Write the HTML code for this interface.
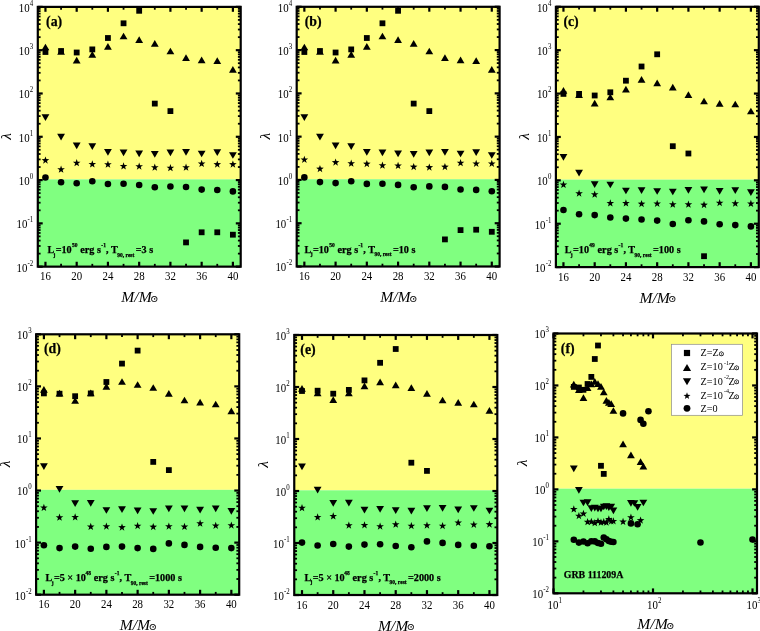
<!DOCTYPE html>
<html lang="en"><head><meta charset="utf-8"><title>lambda versus progenitor mass</title>
<style>html,body{margin:0;padding:0;background:#fff}body{width:760px;height:631px;overflow:hidden}svg{display:block;will-change:transform}</style>
</head><body>
<svg width="760" height="631" viewBox="0 0 760 631" font-family="'Liberation Serif','DejaVu Serif',serif" fill="#000" stroke="#000">
<rect x="0" y="0" width="760" height="631" fill="#fff" stroke="none"/>
<g stroke="#000" fill="#000">
<style>text{stroke:none}text.hv{stroke:#000;stroke-width:0.25px}</style>
<rect x="37.8" y="6.9" width="202.9" height="172.47" fill="#ffff80" stroke="none"/>
<rect x="37.8" y="179.37" width="202.9" height="87.28" fill="#80ff80" stroke="none"/>
<line x1="37.8" y1="266.65" x2="42.7" y2="266.65" stroke-width="2.2"/>
<line x1="240.7" y1="266.65" x2="235.8" y2="266.65" stroke-width="2.2"/>
<line x1="37.8" y1="253.62" x2="40.6" y2="253.62" stroke-width="1.8"/>
<line x1="240.7" y1="253.62" x2="237.9" y2="253.62" stroke-width="1.8"/>
<line x1="37.8" y1="245.99" x2="40.6" y2="245.99" stroke-width="1.8"/>
<line x1="240.7" y1="245.99" x2="237.9" y2="245.99" stroke-width="1.8"/>
<line x1="37.8" y1="240.59" x2="40.6" y2="240.59" stroke-width="1.8"/>
<line x1="240.7" y1="240.59" x2="237.9" y2="240.59" stroke-width="1.8"/>
<line x1="37.8" y1="236.39" x2="40.6" y2="236.39" stroke-width="1.8"/>
<line x1="240.7" y1="236.39" x2="237.9" y2="236.39" stroke-width="1.8"/>
<line x1="37.8" y1="232.96" x2="40.6" y2="232.96" stroke-width="1.8"/>
<line x1="240.7" y1="232.96" x2="237.9" y2="232.96" stroke-width="1.8"/>
<line x1="37.8" y1="230.06" x2="40.6" y2="230.06" stroke-width="1.8"/>
<line x1="240.7" y1="230.06" x2="237.9" y2="230.06" stroke-width="1.8"/>
<line x1="37.8" y1="227.55" x2="40.6" y2="227.55" stroke-width="1.8"/>
<line x1="240.7" y1="227.55" x2="237.9" y2="227.55" stroke-width="1.8"/>
<line x1="37.8" y1="225.34" x2="40.6" y2="225.34" stroke-width="1.8"/>
<line x1="240.7" y1="225.34" x2="237.9" y2="225.34" stroke-width="1.8"/>
<line x1="37.8" y1="223.36" x2="42.7" y2="223.36" stroke-width="2.2"/>
<line x1="240.7" y1="223.36" x2="235.8" y2="223.36" stroke-width="2.2"/>
<line x1="37.8" y1="210.33" x2="40.6" y2="210.33" stroke-width="1.8"/>
<line x1="240.7" y1="210.33" x2="237.9" y2="210.33" stroke-width="1.8"/>
<line x1="37.8" y1="202.7" x2="40.6" y2="202.7" stroke-width="1.8"/>
<line x1="240.7" y1="202.7" x2="237.9" y2="202.7" stroke-width="1.8"/>
<line x1="37.8" y1="197.29" x2="40.6" y2="197.29" stroke-width="1.8"/>
<line x1="240.7" y1="197.29" x2="237.9" y2="197.29" stroke-width="1.8"/>
<line x1="37.8" y1="193.1" x2="40.6" y2="193.1" stroke-width="1.8"/>
<line x1="240.7" y1="193.1" x2="237.9" y2="193.1" stroke-width="1.8"/>
<line x1="37.8" y1="189.67" x2="40.6" y2="189.67" stroke-width="1.8"/>
<line x1="240.7" y1="189.67" x2="237.9" y2="189.67" stroke-width="1.8"/>
<line x1="37.8" y1="186.77" x2="40.6" y2="186.77" stroke-width="1.8"/>
<line x1="240.7" y1="186.77" x2="237.9" y2="186.77" stroke-width="1.8"/>
<line x1="37.8" y1="184.26" x2="40.6" y2="184.26" stroke-width="1.8"/>
<line x1="240.7" y1="184.26" x2="237.9" y2="184.26" stroke-width="1.8"/>
<line x1="37.8" y1="182.05" x2="40.6" y2="182.05" stroke-width="1.8"/>
<line x1="240.7" y1="182.05" x2="237.9" y2="182.05" stroke-width="1.8"/>
<line x1="37.8" y1="180.07" x2="42.7" y2="180.07" stroke-width="2.2"/>
<line x1="240.7" y1="180.07" x2="235.8" y2="180.07" stroke-width="2.2"/>
<line x1="37.8" y1="167.03" x2="40.6" y2="167.03" stroke-width="1.8"/>
<line x1="240.7" y1="167.03" x2="237.9" y2="167.03" stroke-width="1.8"/>
<line x1="37.8" y1="159.41" x2="40.6" y2="159.41" stroke-width="1.8"/>
<line x1="240.7" y1="159.41" x2="237.9" y2="159.41" stroke-width="1.8"/>
<line x1="37.8" y1="154" x2="40.6" y2="154" stroke-width="1.8"/>
<line x1="240.7" y1="154" x2="237.9" y2="154" stroke-width="1.8"/>
<line x1="37.8" y1="149.81" x2="40.6" y2="149.81" stroke-width="1.8"/>
<line x1="240.7" y1="149.81" x2="237.9" y2="149.81" stroke-width="1.8"/>
<line x1="37.8" y1="146.38" x2="40.6" y2="146.38" stroke-width="1.8"/>
<line x1="240.7" y1="146.38" x2="237.9" y2="146.38" stroke-width="1.8"/>
<line x1="37.8" y1="143.48" x2="40.6" y2="143.48" stroke-width="1.8"/>
<line x1="240.7" y1="143.48" x2="237.9" y2="143.48" stroke-width="1.8"/>
<line x1="37.8" y1="140.97" x2="40.6" y2="140.97" stroke-width="1.8"/>
<line x1="240.7" y1="140.97" x2="237.9" y2="140.97" stroke-width="1.8"/>
<line x1="37.8" y1="138.76" x2="40.6" y2="138.76" stroke-width="1.8"/>
<line x1="240.7" y1="138.76" x2="237.9" y2="138.76" stroke-width="1.8"/>
<line x1="37.8" y1="136.78" x2="42.7" y2="136.78" stroke-width="2.2"/>
<line x1="240.7" y1="136.78" x2="235.8" y2="136.78" stroke-width="2.2"/>
<line x1="37.8" y1="123.74" x2="40.6" y2="123.74" stroke-width="1.8"/>
<line x1="240.7" y1="123.74" x2="237.9" y2="123.74" stroke-width="1.8"/>
<line x1="37.8" y1="116.12" x2="40.6" y2="116.12" stroke-width="1.8"/>
<line x1="240.7" y1="116.12" x2="237.9" y2="116.12" stroke-width="1.8"/>
<line x1="37.8" y1="110.71" x2="40.6" y2="110.71" stroke-width="1.8"/>
<line x1="240.7" y1="110.71" x2="237.9" y2="110.71" stroke-width="1.8"/>
<line x1="37.8" y1="106.52" x2="40.6" y2="106.52" stroke-width="1.8"/>
<line x1="240.7" y1="106.52" x2="237.9" y2="106.52" stroke-width="1.8"/>
<line x1="37.8" y1="103.09" x2="40.6" y2="103.09" stroke-width="1.8"/>
<line x1="240.7" y1="103.09" x2="237.9" y2="103.09" stroke-width="1.8"/>
<line x1="37.8" y1="100.19" x2="40.6" y2="100.19" stroke-width="1.8"/>
<line x1="240.7" y1="100.19" x2="237.9" y2="100.19" stroke-width="1.8"/>
<line x1="37.8" y1="97.68" x2="40.6" y2="97.68" stroke-width="1.8"/>
<line x1="240.7" y1="97.68" x2="237.9" y2="97.68" stroke-width="1.8"/>
<line x1="37.8" y1="95.46" x2="40.6" y2="95.46" stroke-width="1.8"/>
<line x1="240.7" y1="95.46" x2="237.9" y2="95.46" stroke-width="1.8"/>
<line x1="37.8" y1="93.48" x2="42.7" y2="93.48" stroke-width="2.2"/>
<line x1="240.7" y1="93.48" x2="235.8" y2="93.48" stroke-width="2.2"/>
<line x1="37.8" y1="80.45" x2="40.6" y2="80.45" stroke-width="1.8"/>
<line x1="240.7" y1="80.45" x2="237.9" y2="80.45" stroke-width="1.8"/>
<line x1="37.8" y1="72.83" x2="40.6" y2="72.83" stroke-width="1.8"/>
<line x1="240.7" y1="72.83" x2="237.9" y2="72.83" stroke-width="1.8"/>
<line x1="37.8" y1="67.42" x2="40.6" y2="67.42" stroke-width="1.8"/>
<line x1="240.7" y1="67.42" x2="237.9" y2="67.42" stroke-width="1.8"/>
<line x1="37.8" y1="63.22" x2="40.6" y2="63.22" stroke-width="1.8"/>
<line x1="240.7" y1="63.22" x2="237.9" y2="63.22" stroke-width="1.8"/>
<line x1="37.8" y1="59.8" x2="40.6" y2="59.8" stroke-width="1.8"/>
<line x1="240.7" y1="59.8" x2="237.9" y2="59.8" stroke-width="1.8"/>
<line x1="37.8" y1="56.9" x2="40.6" y2="56.9" stroke-width="1.8"/>
<line x1="240.7" y1="56.9" x2="237.9" y2="56.9" stroke-width="1.8"/>
<line x1="37.8" y1="54.39" x2="40.6" y2="54.39" stroke-width="1.8"/>
<line x1="240.7" y1="54.39" x2="237.9" y2="54.39" stroke-width="1.8"/>
<line x1="37.8" y1="52.17" x2="40.6" y2="52.17" stroke-width="1.8"/>
<line x1="240.7" y1="52.17" x2="237.9" y2="52.17" stroke-width="1.8"/>
<line x1="37.8" y1="50.19" x2="42.7" y2="50.19" stroke-width="2.2"/>
<line x1="240.7" y1="50.19" x2="235.8" y2="50.19" stroke-width="2.2"/>
<line x1="37.8" y1="37.16" x2="40.6" y2="37.16" stroke-width="1.8"/>
<line x1="240.7" y1="37.16" x2="237.9" y2="37.16" stroke-width="1.8"/>
<line x1="37.8" y1="29.54" x2="40.6" y2="29.54" stroke-width="1.8"/>
<line x1="240.7" y1="29.54" x2="237.9" y2="29.54" stroke-width="1.8"/>
<line x1="37.8" y1="24.13" x2="40.6" y2="24.13" stroke-width="1.8"/>
<line x1="240.7" y1="24.13" x2="237.9" y2="24.13" stroke-width="1.8"/>
<line x1="37.8" y1="19.93" x2="40.6" y2="19.93" stroke-width="1.8"/>
<line x1="240.7" y1="19.93" x2="237.9" y2="19.93" stroke-width="1.8"/>
<line x1="37.8" y1="16.5" x2="40.6" y2="16.5" stroke-width="1.8"/>
<line x1="240.7" y1="16.5" x2="237.9" y2="16.5" stroke-width="1.8"/>
<line x1="37.8" y1="13.61" x2="40.6" y2="13.61" stroke-width="1.8"/>
<line x1="240.7" y1="13.61" x2="237.9" y2="13.61" stroke-width="1.8"/>
<line x1="37.8" y1="11.1" x2="40.6" y2="11.1" stroke-width="1.8"/>
<line x1="240.7" y1="11.1" x2="237.9" y2="11.1" stroke-width="1.8"/>
<line x1="37.8" y1="8.88" x2="40.6" y2="8.88" stroke-width="1.8"/>
<line x1="240.7" y1="8.88" x2="237.9" y2="8.88" stroke-width="1.8"/>
<line x1="37.8" y1="6.9" x2="42.7" y2="6.9" stroke-width="2.2"/>
<line x1="240.7" y1="6.9" x2="235.8" y2="6.9" stroke-width="2.2"/>
<line x1="45.45" y1="266.65" x2="45.45" y2="261.75" stroke-width="2.2"/>
<line x1="45.45" y1="6.9" x2="45.45" y2="11.8" stroke-width="2.2"/>
<line x1="61.07" y1="266.65" x2="61.07" y2="263.85" stroke-width="1.8"/>
<line x1="61.07" y1="6.9" x2="61.07" y2="9.7" stroke-width="1.8"/>
<line x1="76.69" y1="266.65" x2="76.69" y2="261.75" stroke-width="2.2"/>
<line x1="76.69" y1="6.9" x2="76.69" y2="11.8" stroke-width="2.2"/>
<line x1="92.31" y1="266.65" x2="92.31" y2="263.85" stroke-width="1.8"/>
<line x1="92.31" y1="6.9" x2="92.31" y2="9.7" stroke-width="1.8"/>
<line x1="107.93" y1="266.65" x2="107.93" y2="261.75" stroke-width="2.2"/>
<line x1="107.93" y1="6.9" x2="107.93" y2="11.8" stroke-width="2.2"/>
<line x1="123.55" y1="266.65" x2="123.55" y2="263.85" stroke-width="1.8"/>
<line x1="123.55" y1="6.9" x2="123.55" y2="9.7" stroke-width="1.8"/>
<line x1="139.17" y1="266.65" x2="139.17" y2="261.75" stroke-width="2.2"/>
<line x1="139.17" y1="6.9" x2="139.17" y2="11.8" stroke-width="2.2"/>
<line x1="154.79" y1="266.65" x2="154.79" y2="263.85" stroke-width="1.8"/>
<line x1="154.79" y1="6.9" x2="154.79" y2="9.7" stroke-width="1.8"/>
<line x1="170.41" y1="266.65" x2="170.41" y2="261.75" stroke-width="2.2"/>
<line x1="170.41" y1="6.9" x2="170.41" y2="11.8" stroke-width="2.2"/>
<line x1="186.03" y1="266.65" x2="186.03" y2="263.85" stroke-width="1.8"/>
<line x1="186.03" y1="6.9" x2="186.03" y2="9.7" stroke-width="1.8"/>
<line x1="201.65" y1="266.65" x2="201.65" y2="261.75" stroke-width="2.2"/>
<line x1="201.65" y1="6.9" x2="201.65" y2="11.8" stroke-width="2.2"/>
<line x1="217.27" y1="266.65" x2="217.27" y2="263.85" stroke-width="1.8"/>
<line x1="217.27" y1="6.9" x2="217.27" y2="9.7" stroke-width="1.8"/>
<line x1="232.89" y1="266.65" x2="232.89" y2="261.75" stroke-width="2.2"/>
<line x1="232.89" y1="6.9" x2="232.89" y2="11.8" stroke-width="2.2"/>
<rect x="37.8" y="6.9" width="202.9" height="259.75" fill="none" stroke-width="2.2"/>
<text transform="translate(33.3 271.55) scale(0.93 1)" font-size="11.7" text-anchor="end">10<tspan font-size="7.4" dy="-6" dx="0.2">-2</tspan></text>
<text transform="translate(33.3 228.26) scale(0.93 1)" font-size="11.7" text-anchor="end">10<tspan font-size="7.4" dy="-6" dx="0.2">-1</tspan></text>
<text transform="translate(33.3 184.97) scale(0.93 1)" font-size="11.7" text-anchor="end">10<tspan font-size="7.4" dy="-6" dx="0.2">0</tspan></text>
<text transform="translate(33.3 141.68) scale(0.93 1)" font-size="11.7" text-anchor="end">10<tspan font-size="7.4" dy="-6" dx="0.2">1</tspan></text>
<text transform="translate(33.3 98.38) scale(0.93 1)" font-size="11.7" text-anchor="end">10<tspan font-size="7.4" dy="-6" dx="0.2">2</tspan></text>
<text transform="translate(33.3 55.09) scale(0.93 1)" font-size="11.7" text-anchor="end">10<tspan font-size="7.4" dy="-6" dx="0.2">3</tspan></text>
<text transform="translate(33.3 11.8) scale(0.93 1)" font-size="11.7" text-anchor="end">10<tspan font-size="7.4" dy="-6" dx="0.2">4</tspan></text>
<text transform="translate(45.45 280.35) scale(0.93 1)" font-size="11.7" text-anchor="middle">16</text>
<text transform="translate(76.69 280.35) scale(0.93 1)" font-size="11.7" text-anchor="middle">20</text>
<text transform="translate(107.93 280.35) scale(0.93 1)" font-size="11.7" text-anchor="middle">24</text>
<text transform="translate(139.17 280.35) scale(0.93 1)" font-size="11.7" text-anchor="middle">28</text>
<text transform="translate(170.41 280.35) scale(0.93 1)" font-size="11.7" text-anchor="middle">32</text>
<text transform="translate(201.65 280.35) scale(0.93 1)" font-size="11.7" text-anchor="middle">36</text>
<text transform="translate(232.89 280.35) scale(0.93 1)" font-size="11.7" text-anchor="middle">40</text>
<text x="121.35" y="302.35" font-size="15.6" text-anchor="start" font-weight="normal" font-style="italic">M/M</text>
<text transform="translate(154.25 298.85) scale(0.4802)" x="-8.38" y="6.28" font-size="20" font-family="'DejaVu Sans',sans-serif" style="stroke:#000;stroke-width:0.21">⊙</text>
<text transform="translate(11.2 136.27) rotate(-90)" font-size="15.5" font-style="italic" text-anchor="middle">λ</text>
<text x="46.1" y="25.7" font-size="13.8" text-anchor="start" font-weight="bold" font-style="normal" class="hv">(a)</text>
<text font-size="10.2" font-weight="bold" class="hv"><tspan x="47.4" y="252.7">L</tspan><tspan x="53.5" y="256.5" font-size="5.5">j</tspan><tspan x="55.7" y="252.7">=10</tspan><tspan x="72" y="247.1" font-size="5.5">50</tspan><tspan x="80.3" y="252.7">erg s</tspan><tspan x="101.3" y="247.1" font-size="5.5">-1</tspan><tspan x="106.1" y="252.7">, T</tspan><tspan x="117.3" y="256.5" font-size="5.5">90, rest</tspan><tspan x="135.7" y="252.7">=3 s</tspan></text>
<g fill="#000" stroke="none">
<rect x="42.55" y="49.1" width="5.8" height="5.8"/>
<rect x="58.17" y="48.1" width="5.8" height="5.8"/>
<rect x="73.79" y="49.6" width="5.8" height="5.8"/>
<rect x="89.41" y="46.5" width="5.8" height="5.8"/>
<rect x="105.03" y="35.1" width="5.8" height="5.8"/>
<rect x="120.65" y="20.4" width="5.8" height="5.8"/>
<rect x="136.27" y="7.9" width="5.8" height="5.8"/>
<rect x="151.89" y="100.7" width="5.8" height="5.8"/>
<rect x="167.51" y="108.2" width="5.8" height="5.8"/>
<rect x="183.13" y="239.5" width="5.8" height="5.8"/>
<rect x="198.75" y="229.4" width="5.8" height="5.8"/>
<rect x="214.37" y="229.4" width="5.8" height="5.8"/>
<rect x="229.99" y="231.8" width="5.8" height="5.8"/>
<path d="M45.45 43.65L49.35 50.35L41.55 50.35Z"/>
<path d="M61.07 48.15L64.97 54.85L57.17 54.85Z"/>
<path d="M76.69 56.85L80.59 63.55L72.79 63.55Z"/>
<path d="M92.31 51.05L96.21 57.75L88.41 57.75Z"/>
<path d="M107.93 42.95L111.83 49.65L104.03 49.65Z"/>
<path d="M123.55 32.65L127.45 39.35L119.65 39.35Z"/>
<path d="M139.17 36.25L143.07 42.95L135.27 42.95Z"/>
<path d="M154.79 40.05L158.69 46.75L150.89 46.75Z"/>
<path d="M170.41 47.65L174.31 54.35L166.51 54.35Z"/>
<path d="M186.03 54.35L189.93 61.05L182.13 61.05Z"/>
<path d="M201.65 56.55L205.55 63.25L197.75 63.25Z"/>
<path d="M217.27 57.35L221.17 64.05L213.37 64.05Z"/>
<path d="M232.89 65.95L236.79 72.65L228.99 72.65Z"/>
<path d="M45.45 121.05L49.35 114.35L41.55 114.35Z"/>
<path d="M61.07 140.55L64.97 133.85L57.17 133.85Z"/>
<path d="M76.69 149.15L80.59 142.45L72.79 142.45Z"/>
<path d="M92.31 149.95L96.21 143.25L88.41 143.25Z"/>
<path d="M107.93 155.75L111.83 149.05L104.03 149.05Z"/>
<path d="M123.55 156.15L127.45 149.45L119.65 149.45Z"/>
<path d="M139.17 157.25L143.07 150.55L135.27 150.55Z"/>
<path d="M154.79 157.65L158.69 150.95L150.89 150.95Z"/>
<path d="M170.41 156.15L174.31 149.45L166.51 149.45Z"/>
<path d="M186.03 155.75L189.93 149.05L182.13 149.05Z"/>
<path d="M201.65 157.35L205.55 150.65L197.75 150.65Z"/>
<path d="M217.27 155.95L221.17 149.25L213.37 149.25Z"/>
<path d="M232.89 158.85L236.79 152.15L228.99 152.15Z"/>
<path d="M45.45 156.4L46.39 159.11L49.25 159.16L46.97 160.89L47.8 163.64L45.45 162L43.1 163.64L43.93 160.89L41.65 159.16L44.51 159.11Z"/>
<path d="M61.07 165.6L62.01 168.31L64.87 168.36L62.59 170.09L63.42 172.84L61.07 171.2L58.72 172.84L59.55 170.09L57.27 168.36L60.13 168.31Z"/>
<path d="M76.69 159.1L77.63 161.81L80.49 161.86L78.21 163.59L79.04 166.34L76.69 164.7L74.34 166.34L75.17 163.59L72.89 161.86L75.75 161.81Z"/>
<path d="M92.31 160.3L93.25 163.01L96.11 163.06L93.83 164.79L94.66 167.54L92.31 165.9L89.96 167.54L90.79 164.79L88.51 163.06L91.37 163.01Z"/>
<path d="M107.93 160.6L108.87 163.31L111.73 163.36L109.45 165.09L110.28 167.84L107.93 166.2L105.58 167.84L106.41 165.09L104.13 163.36L106.99 163.31Z"/>
<path d="M123.55 162.3L124.49 165.01L127.35 165.06L125.07 166.79L125.9 169.54L123.55 167.9L121.2 169.54L122.03 166.79L119.75 165.06L122.61 165.01Z"/>
<path d="M139.17 162.5L140.11 165.21L142.97 165.26L140.69 166.99L141.52 169.74L139.17 168.1L136.82 169.74L137.65 166.99L135.37 165.26L138.23 165.21Z"/>
<path d="M154.79 163.6L155.73 166.31L158.59 166.36L156.31 168.09L157.14 170.84L154.79 169.2L152.44 170.84L153.27 168.09L150.99 166.36L153.85 166.31Z"/>
<path d="M170.41 164.1L171.35 166.81L174.21 166.86L171.93 168.59L172.76 171.34L170.41 169.7L168.06 171.34L168.89 168.59L166.61 166.86L169.47 166.81Z"/>
<path d="M186.03 163.6L186.97 166.31L189.83 166.36L187.55 168.09L188.38 170.84L186.03 169.2L183.68 170.84L184.51 168.09L182.23 166.36L185.09 166.31Z"/>
<path d="M201.65 159.8L202.59 162.51L205.45 162.56L203.17 164.29L204 167.04L201.65 165.4L199.3 167.04L200.13 164.29L197.85 162.56L200.71 162.51Z"/>
<path d="M217.27 160.4L218.21 163.11L221.07 163.16L218.79 164.89L219.62 167.64L217.27 166L214.92 167.64L215.75 164.89L213.47 163.16L216.33 163.11Z"/>
<path d="M232.89 160.4L233.83 163.11L236.69 163.16L234.41 164.89L235.24 167.64L232.89 166L230.54 167.64L231.37 164.89L229.09 163.16L231.95 163.11Z"/>
<circle cx="45.45" cy="177.5" r="3.3"/>
<circle cx="61.07" cy="182.2" r="3.3"/>
<circle cx="76.69" cy="183.2" r="3.3"/>
<circle cx="92.31" cy="181.3" r="3.3"/>
<circle cx="107.93" cy="184" r="3.3"/>
<circle cx="123.55" cy="183.8" r="3.3"/>
<circle cx="139.17" cy="185" r="3.3"/>
<circle cx="154.79" cy="187.3" r="3.3"/>
<circle cx="170.41" cy="186.5" r="3.3"/>
<circle cx="186.03" cy="187" r="3.3"/>
<circle cx="201.65" cy="189.6" r="3.3"/>
<circle cx="217.27" cy="190" r="3.3"/>
<circle cx="232.89" cy="191.4" r="3.3"/>
</g>
<rect x="296.7" y="6.8" width="202.9" height="172.43" fill="#ffff80" stroke="none"/>
<rect x="296.7" y="179.23" width="202.9" height="87.27" fill="#80ff80" stroke="none"/>
<line x1="296.7" y1="266.5" x2="301.6" y2="266.5" stroke-width="2.2"/>
<line x1="499.6" y1="266.5" x2="494.7" y2="266.5" stroke-width="2.2"/>
<line x1="296.7" y1="253.47" x2="299.5" y2="253.47" stroke-width="1.8"/>
<line x1="499.6" y1="253.47" x2="496.8" y2="253.47" stroke-width="1.8"/>
<line x1="296.7" y1="245.85" x2="299.5" y2="245.85" stroke-width="1.8"/>
<line x1="499.6" y1="245.85" x2="496.8" y2="245.85" stroke-width="1.8"/>
<line x1="296.7" y1="240.44" x2="299.5" y2="240.44" stroke-width="1.8"/>
<line x1="499.6" y1="240.44" x2="496.8" y2="240.44" stroke-width="1.8"/>
<line x1="296.7" y1="236.25" x2="299.5" y2="236.25" stroke-width="1.8"/>
<line x1="499.6" y1="236.25" x2="496.8" y2="236.25" stroke-width="1.8"/>
<line x1="296.7" y1="232.82" x2="299.5" y2="232.82" stroke-width="1.8"/>
<line x1="499.6" y1="232.82" x2="496.8" y2="232.82" stroke-width="1.8"/>
<line x1="296.7" y1="229.92" x2="299.5" y2="229.92" stroke-width="1.8"/>
<line x1="499.6" y1="229.92" x2="496.8" y2="229.92" stroke-width="1.8"/>
<line x1="296.7" y1="227.41" x2="299.5" y2="227.41" stroke-width="1.8"/>
<line x1="499.6" y1="227.41" x2="496.8" y2="227.41" stroke-width="1.8"/>
<line x1="296.7" y1="225.2" x2="299.5" y2="225.2" stroke-width="1.8"/>
<line x1="499.6" y1="225.2" x2="496.8" y2="225.2" stroke-width="1.8"/>
<line x1="296.7" y1="223.22" x2="301.6" y2="223.22" stroke-width="2.2"/>
<line x1="499.6" y1="223.22" x2="494.7" y2="223.22" stroke-width="2.2"/>
<line x1="296.7" y1="210.19" x2="299.5" y2="210.19" stroke-width="1.8"/>
<line x1="499.6" y1="210.19" x2="496.8" y2="210.19" stroke-width="1.8"/>
<line x1="296.7" y1="202.57" x2="299.5" y2="202.57" stroke-width="1.8"/>
<line x1="499.6" y1="202.57" x2="496.8" y2="202.57" stroke-width="1.8"/>
<line x1="296.7" y1="197.16" x2="299.5" y2="197.16" stroke-width="1.8"/>
<line x1="499.6" y1="197.16" x2="496.8" y2="197.16" stroke-width="1.8"/>
<line x1="296.7" y1="192.96" x2="299.5" y2="192.96" stroke-width="1.8"/>
<line x1="499.6" y1="192.96" x2="496.8" y2="192.96" stroke-width="1.8"/>
<line x1="296.7" y1="189.54" x2="299.5" y2="189.54" stroke-width="1.8"/>
<line x1="499.6" y1="189.54" x2="496.8" y2="189.54" stroke-width="1.8"/>
<line x1="296.7" y1="186.64" x2="299.5" y2="186.64" stroke-width="1.8"/>
<line x1="499.6" y1="186.64" x2="496.8" y2="186.64" stroke-width="1.8"/>
<line x1="296.7" y1="184.13" x2="299.5" y2="184.13" stroke-width="1.8"/>
<line x1="499.6" y1="184.13" x2="496.8" y2="184.13" stroke-width="1.8"/>
<line x1="296.7" y1="181.91" x2="299.5" y2="181.91" stroke-width="1.8"/>
<line x1="499.6" y1="181.91" x2="496.8" y2="181.91" stroke-width="1.8"/>
<line x1="296.7" y1="179.93" x2="301.6" y2="179.93" stroke-width="2.2"/>
<line x1="499.6" y1="179.93" x2="494.7" y2="179.93" stroke-width="2.2"/>
<line x1="296.7" y1="166.9" x2="299.5" y2="166.9" stroke-width="1.8"/>
<line x1="499.6" y1="166.9" x2="496.8" y2="166.9" stroke-width="1.8"/>
<line x1="296.7" y1="159.28" x2="299.5" y2="159.28" stroke-width="1.8"/>
<line x1="499.6" y1="159.28" x2="496.8" y2="159.28" stroke-width="1.8"/>
<line x1="296.7" y1="153.87" x2="299.5" y2="153.87" stroke-width="1.8"/>
<line x1="499.6" y1="153.87" x2="496.8" y2="153.87" stroke-width="1.8"/>
<line x1="296.7" y1="149.68" x2="299.5" y2="149.68" stroke-width="1.8"/>
<line x1="499.6" y1="149.68" x2="496.8" y2="149.68" stroke-width="1.8"/>
<line x1="296.7" y1="146.25" x2="299.5" y2="146.25" stroke-width="1.8"/>
<line x1="499.6" y1="146.25" x2="496.8" y2="146.25" stroke-width="1.8"/>
<line x1="296.7" y1="143.35" x2="299.5" y2="143.35" stroke-width="1.8"/>
<line x1="499.6" y1="143.35" x2="496.8" y2="143.35" stroke-width="1.8"/>
<line x1="296.7" y1="140.84" x2="299.5" y2="140.84" stroke-width="1.8"/>
<line x1="499.6" y1="140.84" x2="496.8" y2="140.84" stroke-width="1.8"/>
<line x1="296.7" y1="138.63" x2="299.5" y2="138.63" stroke-width="1.8"/>
<line x1="499.6" y1="138.63" x2="496.8" y2="138.63" stroke-width="1.8"/>
<line x1="296.7" y1="136.65" x2="301.6" y2="136.65" stroke-width="2.2"/>
<line x1="499.6" y1="136.65" x2="494.7" y2="136.65" stroke-width="2.2"/>
<line x1="296.7" y1="123.62" x2="299.5" y2="123.62" stroke-width="1.8"/>
<line x1="499.6" y1="123.62" x2="496.8" y2="123.62" stroke-width="1.8"/>
<line x1="296.7" y1="116" x2="299.5" y2="116" stroke-width="1.8"/>
<line x1="499.6" y1="116" x2="496.8" y2="116" stroke-width="1.8"/>
<line x1="296.7" y1="110.59" x2="299.5" y2="110.59" stroke-width="1.8"/>
<line x1="499.6" y1="110.59" x2="496.8" y2="110.59" stroke-width="1.8"/>
<line x1="296.7" y1="106.4" x2="299.5" y2="106.4" stroke-width="1.8"/>
<line x1="499.6" y1="106.4" x2="496.8" y2="106.4" stroke-width="1.8"/>
<line x1="296.7" y1="102.97" x2="299.5" y2="102.97" stroke-width="1.8"/>
<line x1="499.6" y1="102.97" x2="496.8" y2="102.97" stroke-width="1.8"/>
<line x1="296.7" y1="100.07" x2="299.5" y2="100.07" stroke-width="1.8"/>
<line x1="499.6" y1="100.07" x2="496.8" y2="100.07" stroke-width="1.8"/>
<line x1="296.7" y1="97.56" x2="299.5" y2="97.56" stroke-width="1.8"/>
<line x1="499.6" y1="97.56" x2="496.8" y2="97.56" stroke-width="1.8"/>
<line x1="296.7" y1="95.35" x2="299.5" y2="95.35" stroke-width="1.8"/>
<line x1="499.6" y1="95.35" x2="496.8" y2="95.35" stroke-width="1.8"/>
<line x1="296.7" y1="93.37" x2="301.6" y2="93.37" stroke-width="2.2"/>
<line x1="499.6" y1="93.37" x2="494.7" y2="93.37" stroke-width="2.2"/>
<line x1="296.7" y1="80.34" x2="299.5" y2="80.34" stroke-width="1.8"/>
<line x1="499.6" y1="80.34" x2="496.8" y2="80.34" stroke-width="1.8"/>
<line x1="296.7" y1="72.72" x2="299.5" y2="72.72" stroke-width="1.8"/>
<line x1="499.6" y1="72.72" x2="496.8" y2="72.72" stroke-width="1.8"/>
<line x1="296.7" y1="67.31" x2="299.5" y2="67.31" stroke-width="1.8"/>
<line x1="499.6" y1="67.31" x2="496.8" y2="67.31" stroke-width="1.8"/>
<line x1="296.7" y1="63.11" x2="299.5" y2="63.11" stroke-width="1.8"/>
<line x1="499.6" y1="63.11" x2="496.8" y2="63.11" stroke-width="1.8"/>
<line x1="296.7" y1="59.69" x2="299.5" y2="59.69" stroke-width="1.8"/>
<line x1="499.6" y1="59.69" x2="496.8" y2="59.69" stroke-width="1.8"/>
<line x1="296.7" y1="56.79" x2="299.5" y2="56.79" stroke-width="1.8"/>
<line x1="499.6" y1="56.79" x2="496.8" y2="56.79" stroke-width="1.8"/>
<line x1="296.7" y1="54.28" x2="299.5" y2="54.28" stroke-width="1.8"/>
<line x1="499.6" y1="54.28" x2="496.8" y2="54.28" stroke-width="1.8"/>
<line x1="296.7" y1="52.06" x2="299.5" y2="52.06" stroke-width="1.8"/>
<line x1="499.6" y1="52.06" x2="496.8" y2="52.06" stroke-width="1.8"/>
<line x1="296.7" y1="50.08" x2="301.6" y2="50.08" stroke-width="2.2"/>
<line x1="499.6" y1="50.08" x2="494.7" y2="50.08" stroke-width="2.2"/>
<line x1="296.7" y1="37.05" x2="299.5" y2="37.05" stroke-width="1.8"/>
<line x1="499.6" y1="37.05" x2="496.8" y2="37.05" stroke-width="1.8"/>
<line x1="296.7" y1="29.43" x2="299.5" y2="29.43" stroke-width="1.8"/>
<line x1="499.6" y1="29.43" x2="496.8" y2="29.43" stroke-width="1.8"/>
<line x1="296.7" y1="24.02" x2="299.5" y2="24.02" stroke-width="1.8"/>
<line x1="499.6" y1="24.02" x2="496.8" y2="24.02" stroke-width="1.8"/>
<line x1="296.7" y1="19.83" x2="299.5" y2="19.83" stroke-width="1.8"/>
<line x1="499.6" y1="19.83" x2="496.8" y2="19.83" stroke-width="1.8"/>
<line x1="296.7" y1="16.4" x2="299.5" y2="16.4" stroke-width="1.8"/>
<line x1="499.6" y1="16.4" x2="496.8" y2="16.4" stroke-width="1.8"/>
<line x1="296.7" y1="13.5" x2="299.5" y2="13.5" stroke-width="1.8"/>
<line x1="499.6" y1="13.5" x2="496.8" y2="13.5" stroke-width="1.8"/>
<line x1="296.7" y1="10.99" x2="299.5" y2="10.99" stroke-width="1.8"/>
<line x1="499.6" y1="10.99" x2="496.8" y2="10.99" stroke-width="1.8"/>
<line x1="296.7" y1="8.78" x2="299.5" y2="8.78" stroke-width="1.8"/>
<line x1="499.6" y1="8.78" x2="496.8" y2="8.78" stroke-width="1.8"/>
<line x1="296.7" y1="6.8" x2="301.6" y2="6.8" stroke-width="2.2"/>
<line x1="499.6" y1="6.8" x2="494.7" y2="6.8" stroke-width="2.2"/>
<line x1="304.35" y1="266.5" x2="304.35" y2="261.6" stroke-width="2.2"/>
<line x1="304.35" y1="6.8" x2="304.35" y2="11.7" stroke-width="2.2"/>
<line x1="319.97" y1="266.5" x2="319.97" y2="263.7" stroke-width="1.8"/>
<line x1="319.97" y1="6.8" x2="319.97" y2="9.6" stroke-width="1.8"/>
<line x1="335.59" y1="266.5" x2="335.59" y2="261.6" stroke-width="2.2"/>
<line x1="335.59" y1="6.8" x2="335.59" y2="11.7" stroke-width="2.2"/>
<line x1="351.21" y1="266.5" x2="351.21" y2="263.7" stroke-width="1.8"/>
<line x1="351.21" y1="6.8" x2="351.21" y2="9.6" stroke-width="1.8"/>
<line x1="366.83" y1="266.5" x2="366.83" y2="261.6" stroke-width="2.2"/>
<line x1="366.83" y1="6.8" x2="366.83" y2="11.7" stroke-width="2.2"/>
<line x1="382.45" y1="266.5" x2="382.45" y2="263.7" stroke-width="1.8"/>
<line x1="382.45" y1="6.8" x2="382.45" y2="9.6" stroke-width="1.8"/>
<line x1="398.07" y1="266.5" x2="398.07" y2="261.6" stroke-width="2.2"/>
<line x1="398.07" y1="6.8" x2="398.07" y2="11.7" stroke-width="2.2"/>
<line x1="413.69" y1="266.5" x2="413.69" y2="263.7" stroke-width="1.8"/>
<line x1="413.69" y1="6.8" x2="413.69" y2="9.6" stroke-width="1.8"/>
<line x1="429.31" y1="266.5" x2="429.31" y2="261.6" stroke-width="2.2"/>
<line x1="429.31" y1="6.8" x2="429.31" y2="11.7" stroke-width="2.2"/>
<line x1="444.93" y1="266.5" x2="444.93" y2="263.7" stroke-width="1.8"/>
<line x1="444.93" y1="6.8" x2="444.93" y2="9.6" stroke-width="1.8"/>
<line x1="460.55" y1="266.5" x2="460.55" y2="261.6" stroke-width="2.2"/>
<line x1="460.55" y1="6.8" x2="460.55" y2="11.7" stroke-width="2.2"/>
<line x1="476.17" y1="266.5" x2="476.17" y2="263.7" stroke-width="1.8"/>
<line x1="476.17" y1="6.8" x2="476.17" y2="9.6" stroke-width="1.8"/>
<line x1="491.79" y1="266.5" x2="491.79" y2="261.6" stroke-width="2.2"/>
<line x1="491.79" y1="6.8" x2="491.79" y2="11.7" stroke-width="2.2"/>
<rect x="296.7" y="6.8" width="202.9" height="259.7" fill="none" stroke-width="2.2"/>
<text transform="translate(292.2 271.4) scale(0.93 1)" font-size="11.7" text-anchor="end">10<tspan font-size="7.4" dy="-6" dx="0.2">-2</tspan></text>
<text transform="translate(292.2 228.12) scale(0.93 1)" font-size="11.7" text-anchor="end">10<tspan font-size="7.4" dy="-6" dx="0.2">-1</tspan></text>
<text transform="translate(292.2 184.83) scale(0.93 1)" font-size="11.7" text-anchor="end">10<tspan font-size="7.4" dy="-6" dx="0.2">0</tspan></text>
<text transform="translate(292.2 141.55) scale(0.93 1)" font-size="11.7" text-anchor="end">10<tspan font-size="7.4" dy="-6" dx="0.2">1</tspan></text>
<text transform="translate(292.2 98.27) scale(0.93 1)" font-size="11.7" text-anchor="end">10<tspan font-size="7.4" dy="-6" dx="0.2">2</tspan></text>
<text transform="translate(292.2 54.98) scale(0.93 1)" font-size="11.7" text-anchor="end">10<tspan font-size="7.4" dy="-6" dx="0.2">3</tspan></text>
<text transform="translate(292.2 11.7) scale(0.93 1)" font-size="11.7" text-anchor="end">10<tspan font-size="7.4" dy="-6" dx="0.2">4</tspan></text>
<text transform="translate(304.35 280.2) scale(0.93 1)" font-size="11.7" text-anchor="middle">16</text>
<text transform="translate(335.59 280.2) scale(0.93 1)" font-size="11.7" text-anchor="middle">20</text>
<text transform="translate(366.83 280.2) scale(0.93 1)" font-size="11.7" text-anchor="middle">24</text>
<text transform="translate(398.07 280.2) scale(0.93 1)" font-size="11.7" text-anchor="middle">28</text>
<text transform="translate(429.31 280.2) scale(0.93 1)" font-size="11.7" text-anchor="middle">32</text>
<text transform="translate(460.55 280.2) scale(0.93 1)" font-size="11.7" text-anchor="middle">36</text>
<text transform="translate(491.79 280.2) scale(0.93 1)" font-size="11.7" text-anchor="middle">40</text>
<text x="380.25" y="302.2" font-size="15.6" text-anchor="start" font-weight="normal" font-style="italic">M/M</text>
<text transform="translate(413.15 298.7) scale(0.4802)" x="-8.38" y="6.28" font-size="20" font-family="'DejaVu Sans',sans-serif" style="stroke:#000;stroke-width:0.21">⊙</text>
<text transform="translate(270.1 136.15) rotate(-90)" font-size="15.5" font-style="italic" text-anchor="middle">λ</text>
<text x="304.7" y="25.7" font-size="13.8" text-anchor="start" font-weight="bold" font-style="normal" class="hv">(b)</text>
<text font-size="10.2" font-weight="bold" class="hv"><tspan x="304.6" y="252.5">L</tspan><tspan x="310.7" y="256.3" font-size="5.5">j</tspan><tspan x="312.9" y="252.5">=10</tspan><tspan x="329.2" y="246.9" font-size="5.5">50</tspan><tspan x="337.5" y="252.5">erg s</tspan><tspan x="358.5" y="246.9" font-size="5.5">-1</tspan><tspan x="363.3" y="252.5">, T</tspan><tspan x="374.5" y="256.3" font-size="5.5">90, rest</tspan><tspan x="392.9" y="252.5">=10 s</tspan></text>
<g fill="#000" stroke="none">
<rect x="301.45" y="49.1" width="5.8" height="5.8"/>
<rect x="317.07" y="48.1" width="5.8" height="5.8"/>
<rect x="332.69" y="49.6" width="5.8" height="5.8"/>
<rect x="348.31" y="46.5" width="5.8" height="5.8"/>
<rect x="363.93" y="35.1" width="5.8" height="5.8"/>
<rect x="379.55" y="20.4" width="5.8" height="5.8"/>
<rect x="395.17" y="7.9" width="5.8" height="5.8"/>
<rect x="410.79" y="100.7" width="5.8" height="5.8"/>
<rect x="426.41" y="108.2" width="5.8" height="5.8"/>
<rect x="442.03" y="236.5" width="5.8" height="5.8"/>
<rect x="457.65" y="227.2" width="5.8" height="5.8"/>
<rect x="473.27" y="226.8" width="5.8" height="5.8"/>
<rect x="488.89" y="228.9" width="5.8" height="5.8"/>
<path d="M304.35 43.65L308.25 50.35L300.45 50.35Z"/>
<path d="M319.97 48.15L323.87 54.85L316.07 54.85Z"/>
<path d="M335.59 56.85L339.49 63.55L331.69 63.55Z"/>
<path d="M351.21 51.05L355.11 57.75L347.31 57.75Z"/>
<path d="M366.83 42.95L370.73 49.65L362.93 49.65Z"/>
<path d="M382.45 32.65L386.35 39.35L378.55 39.35Z"/>
<path d="M398.07 36.25L401.97 42.95L394.17 42.95Z"/>
<path d="M413.69 40.05L417.59 46.75L409.79 46.75Z"/>
<path d="M429.31 47.65L433.21 54.35L425.41 54.35Z"/>
<path d="M444.93 54.35L448.83 61.05L441.03 61.05Z"/>
<path d="M460.55 56.55L464.45 63.25L456.65 63.25Z"/>
<path d="M476.17 57.35L480.07 64.05L472.27 64.05Z"/>
<path d="M491.79 65.95L495.69 72.65L487.89 72.65Z"/>
<path d="M304.35 121.05L308.25 114.35L300.45 114.35Z"/>
<path d="M319.97 140.55L323.87 133.85L316.07 133.85Z"/>
<path d="M335.59 149.15L339.49 142.45L331.69 142.45Z"/>
<path d="M351.21 149.95L355.11 143.25L347.31 143.25Z"/>
<path d="M366.83 155.75L370.73 149.05L362.93 149.05Z"/>
<path d="M382.45 156.15L386.35 149.45L378.55 149.45Z"/>
<path d="M398.07 157.25L401.97 150.55L394.17 150.55Z"/>
<path d="M413.69 157.65L417.59 150.95L409.79 150.95Z"/>
<path d="M429.31 156.15L433.21 149.45L425.41 149.45Z"/>
<path d="M444.93 155.75L448.83 149.05L441.03 149.05Z"/>
<path d="M460.55 157.35L464.45 150.65L456.65 150.65Z"/>
<path d="M476.17 155.95L480.07 149.25L472.27 149.25Z"/>
<path d="M491.79 158.85L495.69 152.15L487.89 152.15Z"/>
<path d="M304.35 155.7L305.29 158.41L308.15 158.46L305.87 160.19L306.7 162.94L304.35 161.3L302 162.94L302.83 160.19L300.55 158.46L303.41 158.41Z"/>
<path d="M319.97 164.9L320.91 167.61L323.77 167.66L321.49 169.39L322.32 172.14L319.97 170.5L317.62 172.14L318.45 169.39L316.17 167.66L319.03 167.61Z"/>
<path d="M335.59 158.4L336.53 161.11L339.39 161.16L337.11 162.89L337.94 165.64L335.59 164L333.24 165.64L334.07 162.89L331.79 161.16L334.65 161.11Z"/>
<path d="M351.21 159.6L352.15 162.31L355.01 162.36L352.73 164.09L353.56 166.84L351.21 165.2L348.86 166.84L349.69 164.09L347.41 162.36L350.27 162.31Z"/>
<path d="M366.83 159.9L367.77 162.61L370.63 162.66L368.35 164.39L369.18 167.14L366.83 165.5L364.48 167.14L365.31 164.39L363.03 162.66L365.89 162.61Z"/>
<path d="M382.45 161.6L383.39 164.31L386.25 164.36L383.97 166.09L384.8 168.84L382.45 167.2L380.1 168.84L380.93 166.09L378.65 164.36L381.51 164.31Z"/>
<path d="M398.07 161.8L399.01 164.51L401.87 164.56L399.59 166.29L400.42 169.04L398.07 167.4L395.72 169.04L396.55 166.29L394.27 164.56L397.13 164.51Z"/>
<path d="M413.69 162.9L414.63 165.61L417.49 165.66L415.21 167.39L416.04 170.14L413.69 168.5L411.34 170.14L412.17 167.39L409.89 165.66L412.75 165.61Z"/>
<path d="M429.31 163.4L430.25 166.11L433.11 166.16L430.83 167.89L431.66 170.64L429.31 169L426.96 170.64L427.79 167.89L425.51 166.16L428.37 166.11Z"/>
<path d="M444.93 162.9L445.87 165.61L448.73 165.66L446.45 167.39L447.28 170.14L444.93 168.5L442.58 170.14L443.41 167.39L441.13 165.66L443.99 165.61Z"/>
<path d="M460.55 159.1L461.49 161.81L464.35 161.86L462.07 163.59L462.9 166.34L460.55 164.7L458.2 166.34L459.03 163.59L456.75 161.86L459.61 161.81Z"/>
<path d="M476.17 159.7L477.11 162.41L479.97 162.46L477.69 164.19L478.52 166.94L476.17 165.3L473.82 166.94L474.65 164.19L472.37 162.46L475.23 162.41Z"/>
<path d="M491.79 159.7L492.73 162.41L495.59 162.46L493.31 164.19L494.14 166.94L491.79 165.3L489.44 166.94L490.27 164.19L487.99 162.46L490.85 162.41Z"/>
<circle cx="304.35" cy="177.4" r="3.3"/>
<circle cx="319.97" cy="182.1" r="3.3"/>
<circle cx="335.59" cy="183.1" r="3.3"/>
<circle cx="351.21" cy="181.2" r="3.3"/>
<circle cx="366.83" cy="183.9" r="3.3"/>
<circle cx="382.45" cy="183.7" r="3.3"/>
<circle cx="398.07" cy="184.9" r="3.3"/>
<circle cx="413.69" cy="187.2" r="3.3"/>
<circle cx="429.31" cy="186.4" r="3.3"/>
<circle cx="444.93" cy="186.9" r="3.3"/>
<circle cx="460.55" cy="189.5" r="3.3"/>
<circle cx="476.17" cy="189.9" r="3.3"/>
<circle cx="491.79" cy="191.3" r="3.3"/>
</g>
<rect x="555.9" y="6.8" width="202.9" height="172.83" fill="#ffff80" stroke="none"/>
<rect x="555.9" y="179.63" width="202.9" height="87.47" fill="#80ff80" stroke="none"/>
<line x1="555.9" y1="267.1" x2="560.8" y2="267.1" stroke-width="2.2"/>
<line x1="758.8" y1="267.1" x2="753.9" y2="267.1" stroke-width="2.2"/>
<line x1="555.9" y1="254.04" x2="558.7" y2="254.04" stroke-width="1.8"/>
<line x1="758.8" y1="254.04" x2="756" y2="254.04" stroke-width="1.8"/>
<line x1="555.9" y1="246.4" x2="558.7" y2="246.4" stroke-width="1.8"/>
<line x1="758.8" y1="246.4" x2="756" y2="246.4" stroke-width="1.8"/>
<line x1="555.9" y1="240.98" x2="558.7" y2="240.98" stroke-width="1.8"/>
<line x1="758.8" y1="240.98" x2="756" y2="240.98" stroke-width="1.8"/>
<line x1="555.9" y1="236.78" x2="558.7" y2="236.78" stroke-width="1.8"/>
<line x1="758.8" y1="236.78" x2="756" y2="236.78" stroke-width="1.8"/>
<line x1="555.9" y1="233.34" x2="558.7" y2="233.34" stroke-width="1.8"/>
<line x1="758.8" y1="233.34" x2="756" y2="233.34" stroke-width="1.8"/>
<line x1="555.9" y1="230.44" x2="558.7" y2="230.44" stroke-width="1.8"/>
<line x1="758.8" y1="230.44" x2="756" y2="230.44" stroke-width="1.8"/>
<line x1="555.9" y1="227.92" x2="558.7" y2="227.92" stroke-width="1.8"/>
<line x1="758.8" y1="227.92" x2="756" y2="227.92" stroke-width="1.8"/>
<line x1="555.9" y1="225.7" x2="558.7" y2="225.7" stroke-width="1.8"/>
<line x1="758.8" y1="225.7" x2="756" y2="225.7" stroke-width="1.8"/>
<line x1="555.9" y1="223.72" x2="560.8" y2="223.72" stroke-width="2.2"/>
<line x1="758.8" y1="223.72" x2="753.9" y2="223.72" stroke-width="2.2"/>
<line x1="555.9" y1="210.66" x2="558.7" y2="210.66" stroke-width="1.8"/>
<line x1="758.8" y1="210.66" x2="756" y2="210.66" stroke-width="1.8"/>
<line x1="555.9" y1="203.02" x2="558.7" y2="203.02" stroke-width="1.8"/>
<line x1="758.8" y1="203.02" x2="756" y2="203.02" stroke-width="1.8"/>
<line x1="555.9" y1="197.6" x2="558.7" y2="197.6" stroke-width="1.8"/>
<line x1="758.8" y1="197.6" x2="756" y2="197.6" stroke-width="1.8"/>
<line x1="555.9" y1="193.39" x2="558.7" y2="193.39" stroke-width="1.8"/>
<line x1="758.8" y1="193.39" x2="756" y2="193.39" stroke-width="1.8"/>
<line x1="555.9" y1="189.96" x2="558.7" y2="189.96" stroke-width="1.8"/>
<line x1="758.8" y1="189.96" x2="756" y2="189.96" stroke-width="1.8"/>
<line x1="555.9" y1="187.05" x2="558.7" y2="187.05" stroke-width="1.8"/>
<line x1="758.8" y1="187.05" x2="756" y2="187.05" stroke-width="1.8"/>
<line x1="555.9" y1="184.54" x2="558.7" y2="184.54" stroke-width="1.8"/>
<line x1="758.8" y1="184.54" x2="756" y2="184.54" stroke-width="1.8"/>
<line x1="555.9" y1="182.32" x2="558.7" y2="182.32" stroke-width="1.8"/>
<line x1="758.8" y1="182.32" x2="756" y2="182.32" stroke-width="1.8"/>
<line x1="555.9" y1="180.33" x2="560.8" y2="180.33" stroke-width="2.2"/>
<line x1="758.8" y1="180.33" x2="753.9" y2="180.33" stroke-width="2.2"/>
<line x1="555.9" y1="167.27" x2="558.7" y2="167.27" stroke-width="1.8"/>
<line x1="758.8" y1="167.27" x2="756" y2="167.27" stroke-width="1.8"/>
<line x1="555.9" y1="159.63" x2="558.7" y2="159.63" stroke-width="1.8"/>
<line x1="758.8" y1="159.63" x2="756" y2="159.63" stroke-width="1.8"/>
<line x1="555.9" y1="154.21" x2="558.7" y2="154.21" stroke-width="1.8"/>
<line x1="758.8" y1="154.21" x2="756" y2="154.21" stroke-width="1.8"/>
<line x1="555.9" y1="150.01" x2="558.7" y2="150.01" stroke-width="1.8"/>
<line x1="758.8" y1="150.01" x2="756" y2="150.01" stroke-width="1.8"/>
<line x1="555.9" y1="146.57" x2="558.7" y2="146.57" stroke-width="1.8"/>
<line x1="758.8" y1="146.57" x2="756" y2="146.57" stroke-width="1.8"/>
<line x1="555.9" y1="143.67" x2="558.7" y2="143.67" stroke-width="1.8"/>
<line x1="758.8" y1="143.67" x2="756" y2="143.67" stroke-width="1.8"/>
<line x1="555.9" y1="141.15" x2="558.7" y2="141.15" stroke-width="1.8"/>
<line x1="758.8" y1="141.15" x2="756" y2="141.15" stroke-width="1.8"/>
<line x1="555.9" y1="138.94" x2="558.7" y2="138.94" stroke-width="1.8"/>
<line x1="758.8" y1="138.94" x2="756" y2="138.94" stroke-width="1.8"/>
<line x1="555.9" y1="136.95" x2="560.8" y2="136.95" stroke-width="2.2"/>
<line x1="758.8" y1="136.95" x2="753.9" y2="136.95" stroke-width="2.2"/>
<line x1="555.9" y1="123.89" x2="558.7" y2="123.89" stroke-width="1.8"/>
<line x1="758.8" y1="123.89" x2="756" y2="123.89" stroke-width="1.8"/>
<line x1="555.9" y1="116.25" x2="558.7" y2="116.25" stroke-width="1.8"/>
<line x1="758.8" y1="116.25" x2="756" y2="116.25" stroke-width="1.8"/>
<line x1="555.9" y1="110.83" x2="558.7" y2="110.83" stroke-width="1.8"/>
<line x1="758.8" y1="110.83" x2="756" y2="110.83" stroke-width="1.8"/>
<line x1="555.9" y1="106.63" x2="558.7" y2="106.63" stroke-width="1.8"/>
<line x1="758.8" y1="106.63" x2="756" y2="106.63" stroke-width="1.8"/>
<line x1="555.9" y1="103.19" x2="558.7" y2="103.19" stroke-width="1.8"/>
<line x1="758.8" y1="103.19" x2="756" y2="103.19" stroke-width="1.8"/>
<line x1="555.9" y1="100.29" x2="558.7" y2="100.29" stroke-width="1.8"/>
<line x1="758.8" y1="100.29" x2="756" y2="100.29" stroke-width="1.8"/>
<line x1="555.9" y1="97.77" x2="558.7" y2="97.77" stroke-width="1.8"/>
<line x1="758.8" y1="97.77" x2="756" y2="97.77" stroke-width="1.8"/>
<line x1="555.9" y1="95.55" x2="558.7" y2="95.55" stroke-width="1.8"/>
<line x1="758.8" y1="95.55" x2="756" y2="95.55" stroke-width="1.8"/>
<line x1="555.9" y1="93.57" x2="560.8" y2="93.57" stroke-width="2.2"/>
<line x1="758.8" y1="93.57" x2="753.9" y2="93.57" stroke-width="2.2"/>
<line x1="555.9" y1="80.51" x2="558.7" y2="80.51" stroke-width="1.8"/>
<line x1="758.8" y1="80.51" x2="756" y2="80.51" stroke-width="1.8"/>
<line x1="555.9" y1="72.87" x2="558.7" y2="72.87" stroke-width="1.8"/>
<line x1="758.8" y1="72.87" x2="756" y2="72.87" stroke-width="1.8"/>
<line x1="555.9" y1="67.45" x2="558.7" y2="67.45" stroke-width="1.8"/>
<line x1="758.8" y1="67.45" x2="756" y2="67.45" stroke-width="1.8"/>
<line x1="555.9" y1="63.24" x2="558.7" y2="63.24" stroke-width="1.8"/>
<line x1="758.8" y1="63.24" x2="756" y2="63.24" stroke-width="1.8"/>
<line x1="555.9" y1="59.81" x2="558.7" y2="59.81" stroke-width="1.8"/>
<line x1="758.8" y1="59.81" x2="756" y2="59.81" stroke-width="1.8"/>
<line x1="555.9" y1="56.9" x2="558.7" y2="56.9" stroke-width="1.8"/>
<line x1="758.8" y1="56.9" x2="756" y2="56.9" stroke-width="1.8"/>
<line x1="555.9" y1="54.39" x2="558.7" y2="54.39" stroke-width="1.8"/>
<line x1="758.8" y1="54.39" x2="756" y2="54.39" stroke-width="1.8"/>
<line x1="555.9" y1="52.17" x2="558.7" y2="52.17" stroke-width="1.8"/>
<line x1="758.8" y1="52.17" x2="756" y2="52.17" stroke-width="1.8"/>
<line x1="555.9" y1="50.18" x2="560.8" y2="50.18" stroke-width="2.2"/>
<line x1="758.8" y1="50.18" x2="753.9" y2="50.18" stroke-width="2.2"/>
<line x1="555.9" y1="37.12" x2="558.7" y2="37.12" stroke-width="1.8"/>
<line x1="758.8" y1="37.12" x2="756" y2="37.12" stroke-width="1.8"/>
<line x1="555.9" y1="29.48" x2="558.7" y2="29.48" stroke-width="1.8"/>
<line x1="758.8" y1="29.48" x2="756" y2="29.48" stroke-width="1.8"/>
<line x1="555.9" y1="24.06" x2="558.7" y2="24.06" stroke-width="1.8"/>
<line x1="758.8" y1="24.06" x2="756" y2="24.06" stroke-width="1.8"/>
<line x1="555.9" y1="19.86" x2="558.7" y2="19.86" stroke-width="1.8"/>
<line x1="758.8" y1="19.86" x2="756" y2="19.86" stroke-width="1.8"/>
<line x1="555.9" y1="16.42" x2="558.7" y2="16.42" stroke-width="1.8"/>
<line x1="758.8" y1="16.42" x2="756" y2="16.42" stroke-width="1.8"/>
<line x1="555.9" y1="13.52" x2="558.7" y2="13.52" stroke-width="1.8"/>
<line x1="758.8" y1="13.52" x2="756" y2="13.52" stroke-width="1.8"/>
<line x1="555.9" y1="11" x2="558.7" y2="11" stroke-width="1.8"/>
<line x1="758.8" y1="11" x2="756" y2="11" stroke-width="1.8"/>
<line x1="555.9" y1="8.79" x2="558.7" y2="8.79" stroke-width="1.8"/>
<line x1="758.8" y1="8.79" x2="756" y2="8.79" stroke-width="1.8"/>
<line x1="555.9" y1="6.8" x2="560.8" y2="6.8" stroke-width="2.2"/>
<line x1="758.8" y1="6.8" x2="753.9" y2="6.8" stroke-width="2.2"/>
<line x1="563.45" y1="267.1" x2="563.45" y2="262.2" stroke-width="2.2"/>
<line x1="563.45" y1="6.8" x2="563.45" y2="11.7" stroke-width="2.2"/>
<line x1="579.07" y1="267.1" x2="579.07" y2="264.3" stroke-width="1.8"/>
<line x1="579.07" y1="6.8" x2="579.07" y2="9.6" stroke-width="1.8"/>
<line x1="594.69" y1="267.1" x2="594.69" y2="262.2" stroke-width="2.2"/>
<line x1="594.69" y1="6.8" x2="594.69" y2="11.7" stroke-width="2.2"/>
<line x1="610.31" y1="267.1" x2="610.31" y2="264.3" stroke-width="1.8"/>
<line x1="610.31" y1="6.8" x2="610.31" y2="9.6" stroke-width="1.8"/>
<line x1="625.93" y1="267.1" x2="625.93" y2="262.2" stroke-width="2.2"/>
<line x1="625.93" y1="6.8" x2="625.93" y2="11.7" stroke-width="2.2"/>
<line x1="641.55" y1="267.1" x2="641.55" y2="264.3" stroke-width="1.8"/>
<line x1="641.55" y1="6.8" x2="641.55" y2="9.6" stroke-width="1.8"/>
<line x1="657.17" y1="267.1" x2="657.17" y2="262.2" stroke-width="2.2"/>
<line x1="657.17" y1="6.8" x2="657.17" y2="11.7" stroke-width="2.2"/>
<line x1="672.79" y1="267.1" x2="672.79" y2="264.3" stroke-width="1.8"/>
<line x1="672.79" y1="6.8" x2="672.79" y2="9.6" stroke-width="1.8"/>
<line x1="688.41" y1="267.1" x2="688.41" y2="262.2" stroke-width="2.2"/>
<line x1="688.41" y1="6.8" x2="688.41" y2="11.7" stroke-width="2.2"/>
<line x1="704.03" y1="267.1" x2="704.03" y2="264.3" stroke-width="1.8"/>
<line x1="704.03" y1="6.8" x2="704.03" y2="9.6" stroke-width="1.8"/>
<line x1="719.65" y1="267.1" x2="719.65" y2="262.2" stroke-width="2.2"/>
<line x1="719.65" y1="6.8" x2="719.65" y2="11.7" stroke-width="2.2"/>
<line x1="735.27" y1="267.1" x2="735.27" y2="264.3" stroke-width="1.8"/>
<line x1="735.27" y1="6.8" x2="735.27" y2="9.6" stroke-width="1.8"/>
<line x1="750.89" y1="267.1" x2="750.89" y2="262.2" stroke-width="2.2"/>
<line x1="750.89" y1="6.8" x2="750.89" y2="11.7" stroke-width="2.2"/>
<rect x="555.9" y="6.8" width="202.9" height="260.3" fill="none" stroke-width="2.2"/>
<text transform="translate(551.4 272) scale(0.93 1)" font-size="11.7" text-anchor="end">10<tspan font-size="7.4" dy="-6" dx="0.2">-2</tspan></text>
<text transform="translate(551.4 228.62) scale(0.93 1)" font-size="11.7" text-anchor="end">10<tspan font-size="7.4" dy="-6" dx="0.2">-1</tspan></text>
<text transform="translate(551.4 185.23) scale(0.93 1)" font-size="11.7" text-anchor="end">10<tspan font-size="7.4" dy="-6" dx="0.2">0</tspan></text>
<text transform="translate(551.4 141.85) scale(0.93 1)" font-size="11.7" text-anchor="end">10<tspan font-size="7.4" dy="-6" dx="0.2">1</tspan></text>
<text transform="translate(551.4 98.47) scale(0.93 1)" font-size="11.7" text-anchor="end">10<tspan font-size="7.4" dy="-6" dx="0.2">2</tspan></text>
<text transform="translate(551.4 55.08) scale(0.93 1)" font-size="11.7" text-anchor="end">10<tspan font-size="7.4" dy="-6" dx="0.2">3</tspan></text>
<text transform="translate(551.4 11.7) scale(0.93 1)" font-size="11.7" text-anchor="end">10<tspan font-size="7.4" dy="-6" dx="0.2">4</tspan></text>
<text transform="translate(563.45 280.8) scale(0.93 1)" font-size="11.7" text-anchor="middle">16</text>
<text transform="translate(594.69 280.8) scale(0.93 1)" font-size="11.7" text-anchor="middle">20</text>
<text transform="translate(625.93 280.8) scale(0.93 1)" font-size="11.7" text-anchor="middle">24</text>
<text transform="translate(657.17 280.8) scale(0.93 1)" font-size="11.7" text-anchor="middle">28</text>
<text transform="translate(688.41 280.8) scale(0.93 1)" font-size="11.7" text-anchor="middle">32</text>
<text transform="translate(719.65 280.8) scale(0.93 1)" font-size="11.7" text-anchor="middle">36</text>
<text transform="translate(750.89 280.8) scale(0.93 1)" font-size="11.7" text-anchor="middle">40</text>
<text x="639.45" y="302.8" font-size="15.6" text-anchor="start" font-weight="normal" font-style="italic">M/M</text>
<text transform="translate(672.35 299.3) scale(0.4802)" x="-8.38" y="6.28" font-size="20" font-family="'DejaVu Sans',sans-serif" style="stroke:#000;stroke-width:0.21">⊙</text>
<text transform="translate(529.3 136.45) rotate(-90)" font-size="15.5" font-style="italic" text-anchor="middle">λ</text>
<text x="563.4" y="25.7" font-size="13.8" text-anchor="start" font-weight="bold" font-style="normal" class="hv">(c)</text>
<text font-size="10.2" font-weight="bold" class="hv"><tspan x="564.7" y="252.7">L</tspan><tspan x="570.8" y="256.5" font-size="5.5">j</tspan><tspan x="573" y="252.7">=10</tspan><tspan x="589.3" y="247.1" font-size="5.5">49</tspan><tspan x="597.6" y="252.7">erg s</tspan><tspan x="618.6" y="247.1" font-size="5.5">-1</tspan><tspan x="623.4" y="252.7">, T</tspan><tspan x="634.6" y="256.5" font-size="5.5">90, rest</tspan><tspan x="653" y="252.7">=100 s</tspan></text>
<g fill="#000" stroke="none">
<rect x="560.55" y="91" width="5.8" height="5.8"/>
<rect x="576.17" y="91" width="5.8" height="5.8"/>
<rect x="591.79" y="92.6" width="5.8" height="5.8"/>
<rect x="607.41" y="89.4" width="5.8" height="5.8"/>
<rect x="623.03" y="77.8" width="5.8" height="5.8"/>
<rect x="638.65" y="63.6" width="5.8" height="5.8"/>
<rect x="654.27" y="51.4" width="5.8" height="5.8"/>
<rect x="669.89" y="143.3" width="5.8" height="5.8"/>
<rect x="685.51" y="150.6" width="5.8" height="5.8"/>
<rect x="701.13" y="253.3" width="5.8" height="5.8"/>
<path d="M563.45 87.05L567.35 93.75L559.55 93.75Z"/>
<path d="M579.07 91.35L582.97 98.05L575.17 98.05Z"/>
<path d="M594.69 99.75L598.59 106.45L590.79 106.45Z"/>
<path d="M610.31 93.65L614.21 100.35L606.41 100.35Z"/>
<path d="M625.93 85.75L629.83 92.45L622.03 92.45Z"/>
<path d="M641.55 75.95L645.45 82.65L637.65 82.65Z"/>
<path d="M657.17 79.45L661.07 86.15L653.27 86.15Z"/>
<path d="M672.79 83.75L676.69 90.45L668.89 90.45Z"/>
<path d="M688.41 91.35L692.31 98.05L684.51 98.05Z"/>
<path d="M704.03 97.65L707.93 104.35L700.13 104.35Z"/>
<path d="M719.65 100.05L723.55 106.75L715.75 106.75Z"/>
<path d="M735.27 100.65L739.17 107.35L731.37 107.35Z"/>
<path d="M750.89 107.65L754.79 114.35L746.99 114.35Z"/>
<path d="M563.45 160.65L567.35 153.95L559.55 153.95Z"/>
<path d="M579.07 176.45L582.97 169.75L575.17 169.75Z"/>
<path d="M594.69 188.05L598.59 181.35L590.79 181.35Z"/>
<path d="M610.31 188.35L614.21 181.65L606.41 181.65Z"/>
<path d="M625.93 194.35L629.83 187.65L622.03 187.65Z"/>
<path d="M641.55 194.05L645.45 187.35L637.65 187.35Z"/>
<path d="M657.17 194.85L661.07 188.15L653.27 188.15Z"/>
<path d="M672.79 195.35L676.69 188.65L668.89 188.65Z"/>
<path d="M688.41 193.75L692.31 187.05L684.51 187.05Z"/>
<path d="M704.03 193.25L707.93 186.55L700.13 186.55Z"/>
<path d="M719.65 194.65L723.55 187.95L715.75 187.95Z"/>
<path d="M735.27 194.05L739.17 187.35L731.37 187.35Z"/>
<path d="M750.89 195.95L754.79 189.25L746.99 189.25Z"/>
<path d="M563.45 180.8L564.39 183.51L567.25 183.56L564.97 185.29L565.8 188.04L563.45 186.4L561.1 188.04L561.93 185.29L559.65 183.56L562.51 183.51Z"/>
<path d="M579.07 189.5L580.01 192.21L582.87 192.26L580.59 193.99L581.42 196.74L579.07 195.1L576.72 196.74L577.55 193.99L575.27 192.26L578.13 192.21Z"/>
<path d="M594.69 190.6L595.63 193.31L598.49 193.36L596.21 195.09L597.04 197.84L594.69 196.2L592.34 197.84L593.17 195.09L590.89 193.36L593.75 193.31Z"/>
<path d="M610.31 199.3L611.25 202.01L614.11 202.06L611.83 203.79L612.66 206.54L610.31 204.9L607.96 206.54L608.79 203.79L606.51 202.06L609.37 202.01Z"/>
<path d="M625.93 199.3L626.87 202.01L629.73 202.06L627.45 203.79L628.28 206.54L625.93 204.9L623.58 206.54L624.41 203.79L622.13 202.06L624.99 202.01Z"/>
<path d="M641.55 199.9L642.49 202.61L645.35 202.66L643.07 204.39L643.9 207.14L641.55 205.5L639.2 207.14L640.03 204.39L637.75 202.66L640.61 202.61Z"/>
<path d="M657.17 199.7L658.11 202.41L660.97 202.46L658.69 204.19L659.52 206.94L657.17 205.3L654.82 206.94L655.65 204.19L653.37 202.46L656.23 202.41Z"/>
<path d="M672.79 200.6L673.73 203.31L676.59 203.36L674.31 205.09L675.14 207.84L672.79 206.2L670.44 207.84L671.27 205.09L668.99 203.36L671.85 203.31Z"/>
<path d="M688.41 200.6L689.35 203.31L692.21 203.36L689.93 205.09L690.76 207.84L688.41 206.2L686.06 207.84L686.89 205.09L684.61 203.36L687.47 203.31Z"/>
<path d="M704.03 200.9L704.97 203.61L707.83 203.66L705.55 205.39L706.38 208.14L704.03 206.5L701.68 208.14L702.51 205.39L700.23 203.66L703.09 203.61Z"/>
<path d="M719.65 199L720.59 201.71L723.45 201.76L721.17 203.49L722 206.24L719.65 204.6L717.3 206.24L718.13 203.49L715.85 201.76L718.71 201.71Z"/>
<path d="M735.27 199.6L736.21 202.31L739.07 202.36L736.79 204.09L737.62 206.84L735.27 205.2L732.92 206.84L733.75 204.09L731.47 202.36L734.33 202.31Z"/>
<path d="M750.89 199.8L751.83 202.51L754.69 202.56L752.41 204.29L753.24 207.04L750.89 205.4L748.54 207.04L749.37 204.29L747.09 202.56L749.95 202.51Z"/>
<circle cx="563.45" cy="210" r="3.3"/>
<circle cx="579.07" cy="214.2" r="3.3"/>
<circle cx="594.69" cy="215.1" r="3.3"/>
<circle cx="610.31" cy="217.5" r="3.3"/>
<circle cx="625.93" cy="218.6" r="3.3"/>
<circle cx="641.55" cy="219.5" r="3.3"/>
<circle cx="657.17" cy="220.6" r="3.3"/>
<circle cx="672.79" cy="224" r="3.3"/>
<circle cx="688.41" cy="220.3" r="3.3"/>
<circle cx="704.03" cy="221.4" r="3.3"/>
<circle cx="719.65" cy="224.3" r="3.3"/>
<circle cx="735.27" cy="225.1" r="3.3"/>
<circle cx="750.89" cy="226.4" r="3.3"/>
</g>
<rect x="36.1" y="334.3" width="203.1" height="155.54" fill="#ffff80" stroke="none"/>
<rect x="36.1" y="489.84" width="203.1" height="104.86" fill="#80ff80" stroke="none"/>
<line x1="36.1" y1="594.7" x2="41" y2="594.7" stroke-width="2.2"/>
<line x1="239.2" y1="594.7" x2="234.3" y2="594.7" stroke-width="2.2"/>
<line x1="36.1" y1="579.02" x2="38.9" y2="579.02" stroke-width="1.8"/>
<line x1="239.2" y1="579.02" x2="236.4" y2="579.02" stroke-width="1.8"/>
<line x1="36.1" y1="569.85" x2="38.9" y2="569.85" stroke-width="1.8"/>
<line x1="239.2" y1="569.85" x2="236.4" y2="569.85" stroke-width="1.8"/>
<line x1="36.1" y1="563.34" x2="38.9" y2="563.34" stroke-width="1.8"/>
<line x1="239.2" y1="563.34" x2="236.4" y2="563.34" stroke-width="1.8"/>
<line x1="36.1" y1="558.3" x2="38.9" y2="558.3" stroke-width="1.8"/>
<line x1="239.2" y1="558.3" x2="236.4" y2="558.3" stroke-width="1.8"/>
<line x1="36.1" y1="554.17" x2="38.9" y2="554.17" stroke-width="1.8"/>
<line x1="239.2" y1="554.17" x2="236.4" y2="554.17" stroke-width="1.8"/>
<line x1="36.1" y1="550.69" x2="38.9" y2="550.69" stroke-width="1.8"/>
<line x1="239.2" y1="550.69" x2="236.4" y2="550.69" stroke-width="1.8"/>
<line x1="36.1" y1="547.67" x2="38.9" y2="547.67" stroke-width="1.8"/>
<line x1="239.2" y1="547.67" x2="236.4" y2="547.67" stroke-width="1.8"/>
<line x1="36.1" y1="545" x2="38.9" y2="545" stroke-width="1.8"/>
<line x1="239.2" y1="545" x2="236.4" y2="545" stroke-width="1.8"/>
<line x1="36.1" y1="542.62" x2="41" y2="542.62" stroke-width="2.2"/>
<line x1="239.2" y1="542.62" x2="234.3" y2="542.62" stroke-width="2.2"/>
<line x1="36.1" y1="526.94" x2="38.9" y2="526.94" stroke-width="1.8"/>
<line x1="239.2" y1="526.94" x2="236.4" y2="526.94" stroke-width="1.8"/>
<line x1="36.1" y1="517.77" x2="38.9" y2="517.77" stroke-width="1.8"/>
<line x1="239.2" y1="517.77" x2="236.4" y2="517.77" stroke-width="1.8"/>
<line x1="36.1" y1="511.26" x2="38.9" y2="511.26" stroke-width="1.8"/>
<line x1="239.2" y1="511.26" x2="236.4" y2="511.26" stroke-width="1.8"/>
<line x1="36.1" y1="506.22" x2="38.9" y2="506.22" stroke-width="1.8"/>
<line x1="239.2" y1="506.22" x2="236.4" y2="506.22" stroke-width="1.8"/>
<line x1="36.1" y1="502.09" x2="38.9" y2="502.09" stroke-width="1.8"/>
<line x1="239.2" y1="502.09" x2="236.4" y2="502.09" stroke-width="1.8"/>
<line x1="36.1" y1="498.61" x2="38.9" y2="498.61" stroke-width="1.8"/>
<line x1="239.2" y1="498.61" x2="236.4" y2="498.61" stroke-width="1.8"/>
<line x1="36.1" y1="495.59" x2="38.9" y2="495.59" stroke-width="1.8"/>
<line x1="239.2" y1="495.59" x2="236.4" y2="495.59" stroke-width="1.8"/>
<line x1="36.1" y1="492.92" x2="38.9" y2="492.92" stroke-width="1.8"/>
<line x1="239.2" y1="492.92" x2="236.4" y2="492.92" stroke-width="1.8"/>
<line x1="36.1" y1="490.54" x2="41" y2="490.54" stroke-width="2.2"/>
<line x1="239.2" y1="490.54" x2="234.3" y2="490.54" stroke-width="2.2"/>
<line x1="36.1" y1="474.86" x2="38.9" y2="474.86" stroke-width="1.8"/>
<line x1="239.2" y1="474.86" x2="236.4" y2="474.86" stroke-width="1.8"/>
<line x1="36.1" y1="465.69" x2="38.9" y2="465.69" stroke-width="1.8"/>
<line x1="239.2" y1="465.69" x2="236.4" y2="465.69" stroke-width="1.8"/>
<line x1="36.1" y1="459.18" x2="38.9" y2="459.18" stroke-width="1.8"/>
<line x1="239.2" y1="459.18" x2="236.4" y2="459.18" stroke-width="1.8"/>
<line x1="36.1" y1="454.14" x2="38.9" y2="454.14" stroke-width="1.8"/>
<line x1="239.2" y1="454.14" x2="236.4" y2="454.14" stroke-width="1.8"/>
<line x1="36.1" y1="450.01" x2="38.9" y2="450.01" stroke-width="1.8"/>
<line x1="239.2" y1="450.01" x2="236.4" y2="450.01" stroke-width="1.8"/>
<line x1="36.1" y1="446.53" x2="38.9" y2="446.53" stroke-width="1.8"/>
<line x1="239.2" y1="446.53" x2="236.4" y2="446.53" stroke-width="1.8"/>
<line x1="36.1" y1="443.51" x2="38.9" y2="443.51" stroke-width="1.8"/>
<line x1="239.2" y1="443.51" x2="236.4" y2="443.51" stroke-width="1.8"/>
<line x1="36.1" y1="440.84" x2="38.9" y2="440.84" stroke-width="1.8"/>
<line x1="239.2" y1="440.84" x2="236.4" y2="440.84" stroke-width="1.8"/>
<line x1="36.1" y1="438.46" x2="41" y2="438.46" stroke-width="2.2"/>
<line x1="239.2" y1="438.46" x2="234.3" y2="438.46" stroke-width="2.2"/>
<line x1="36.1" y1="422.78" x2="38.9" y2="422.78" stroke-width="1.8"/>
<line x1="239.2" y1="422.78" x2="236.4" y2="422.78" stroke-width="1.8"/>
<line x1="36.1" y1="413.61" x2="38.9" y2="413.61" stroke-width="1.8"/>
<line x1="239.2" y1="413.61" x2="236.4" y2="413.61" stroke-width="1.8"/>
<line x1="36.1" y1="407.1" x2="38.9" y2="407.1" stroke-width="1.8"/>
<line x1="239.2" y1="407.1" x2="236.4" y2="407.1" stroke-width="1.8"/>
<line x1="36.1" y1="402.06" x2="38.9" y2="402.06" stroke-width="1.8"/>
<line x1="239.2" y1="402.06" x2="236.4" y2="402.06" stroke-width="1.8"/>
<line x1="36.1" y1="397.93" x2="38.9" y2="397.93" stroke-width="1.8"/>
<line x1="239.2" y1="397.93" x2="236.4" y2="397.93" stroke-width="1.8"/>
<line x1="36.1" y1="394.45" x2="38.9" y2="394.45" stroke-width="1.8"/>
<line x1="239.2" y1="394.45" x2="236.4" y2="394.45" stroke-width="1.8"/>
<line x1="36.1" y1="391.43" x2="38.9" y2="391.43" stroke-width="1.8"/>
<line x1="239.2" y1="391.43" x2="236.4" y2="391.43" stroke-width="1.8"/>
<line x1="36.1" y1="388.76" x2="38.9" y2="388.76" stroke-width="1.8"/>
<line x1="239.2" y1="388.76" x2="236.4" y2="388.76" stroke-width="1.8"/>
<line x1="36.1" y1="386.38" x2="41" y2="386.38" stroke-width="2.2"/>
<line x1="239.2" y1="386.38" x2="234.3" y2="386.38" stroke-width="2.2"/>
<line x1="36.1" y1="370.7" x2="38.9" y2="370.7" stroke-width="1.8"/>
<line x1="239.2" y1="370.7" x2="236.4" y2="370.7" stroke-width="1.8"/>
<line x1="36.1" y1="361.53" x2="38.9" y2="361.53" stroke-width="1.8"/>
<line x1="239.2" y1="361.53" x2="236.4" y2="361.53" stroke-width="1.8"/>
<line x1="36.1" y1="355.02" x2="38.9" y2="355.02" stroke-width="1.8"/>
<line x1="239.2" y1="355.02" x2="236.4" y2="355.02" stroke-width="1.8"/>
<line x1="36.1" y1="349.98" x2="38.9" y2="349.98" stroke-width="1.8"/>
<line x1="239.2" y1="349.98" x2="236.4" y2="349.98" stroke-width="1.8"/>
<line x1="36.1" y1="345.85" x2="38.9" y2="345.85" stroke-width="1.8"/>
<line x1="239.2" y1="345.85" x2="236.4" y2="345.85" stroke-width="1.8"/>
<line x1="36.1" y1="342.37" x2="38.9" y2="342.37" stroke-width="1.8"/>
<line x1="239.2" y1="342.37" x2="236.4" y2="342.37" stroke-width="1.8"/>
<line x1="36.1" y1="339.35" x2="38.9" y2="339.35" stroke-width="1.8"/>
<line x1="239.2" y1="339.35" x2="236.4" y2="339.35" stroke-width="1.8"/>
<line x1="36.1" y1="336.68" x2="38.9" y2="336.68" stroke-width="1.8"/>
<line x1="239.2" y1="336.68" x2="236.4" y2="336.68" stroke-width="1.8"/>
<line x1="36.1" y1="334.3" x2="41" y2="334.3" stroke-width="2.2"/>
<line x1="239.2" y1="334.3" x2="234.3" y2="334.3" stroke-width="2.2"/>
<line x1="43.9" y1="594.7" x2="43.9" y2="589.8" stroke-width="2.2"/>
<line x1="43.9" y1="334.3" x2="43.9" y2="339.2" stroke-width="2.2"/>
<line x1="59.52" y1="594.7" x2="59.52" y2="591.9" stroke-width="1.8"/>
<line x1="59.52" y1="334.3" x2="59.52" y2="337.1" stroke-width="1.8"/>
<line x1="75.14" y1="594.7" x2="75.14" y2="589.8" stroke-width="2.2"/>
<line x1="75.14" y1="334.3" x2="75.14" y2="339.2" stroke-width="2.2"/>
<line x1="90.76" y1="594.7" x2="90.76" y2="591.9" stroke-width="1.8"/>
<line x1="90.76" y1="334.3" x2="90.76" y2="337.1" stroke-width="1.8"/>
<line x1="106.38" y1="594.7" x2="106.38" y2="589.8" stroke-width="2.2"/>
<line x1="106.38" y1="334.3" x2="106.38" y2="339.2" stroke-width="2.2"/>
<line x1="122" y1="594.7" x2="122" y2="591.9" stroke-width="1.8"/>
<line x1="122" y1="334.3" x2="122" y2="337.1" stroke-width="1.8"/>
<line x1="137.62" y1="594.7" x2="137.62" y2="589.8" stroke-width="2.2"/>
<line x1="137.62" y1="334.3" x2="137.62" y2="339.2" stroke-width="2.2"/>
<line x1="153.24" y1="594.7" x2="153.24" y2="591.9" stroke-width="1.8"/>
<line x1="153.24" y1="334.3" x2="153.24" y2="337.1" stroke-width="1.8"/>
<line x1="168.86" y1="594.7" x2="168.86" y2="589.8" stroke-width="2.2"/>
<line x1="168.86" y1="334.3" x2="168.86" y2="339.2" stroke-width="2.2"/>
<line x1="184.48" y1="594.7" x2="184.48" y2="591.9" stroke-width="1.8"/>
<line x1="184.48" y1="334.3" x2="184.48" y2="337.1" stroke-width="1.8"/>
<line x1="200.1" y1="594.7" x2="200.1" y2="589.8" stroke-width="2.2"/>
<line x1="200.1" y1="334.3" x2="200.1" y2="339.2" stroke-width="2.2"/>
<line x1="215.72" y1="594.7" x2="215.72" y2="591.9" stroke-width="1.8"/>
<line x1="215.72" y1="334.3" x2="215.72" y2="337.1" stroke-width="1.8"/>
<line x1="231.34" y1="594.7" x2="231.34" y2="589.8" stroke-width="2.2"/>
<line x1="231.34" y1="334.3" x2="231.34" y2="339.2" stroke-width="2.2"/>
<rect x="36.1" y="334.3" width="203.1" height="260.4" fill="none" stroke-width="2.2"/>
<text transform="translate(31.6 599.6) scale(0.93 1)" font-size="11.7" text-anchor="end">10<tspan font-size="7.4" dy="-6" dx="0.2">-2</tspan></text>
<text transform="translate(31.6 547.52) scale(0.93 1)" font-size="11.7" text-anchor="end">10<tspan font-size="7.4" dy="-6" dx="0.2">-1</tspan></text>
<text transform="translate(31.6 495.44) scale(0.93 1)" font-size="11.7" text-anchor="end">10<tspan font-size="7.4" dy="-6" dx="0.2">0</tspan></text>
<text transform="translate(31.6 443.36) scale(0.93 1)" font-size="11.7" text-anchor="end">10<tspan font-size="7.4" dy="-6" dx="0.2">1</tspan></text>
<text transform="translate(31.6 391.28) scale(0.93 1)" font-size="11.7" text-anchor="end">10<tspan font-size="7.4" dy="-6" dx="0.2">2</tspan></text>
<text transform="translate(31.6 339.2) scale(0.93 1)" font-size="11.7" text-anchor="end">10<tspan font-size="7.4" dy="-6" dx="0.2">3</tspan></text>
<text transform="translate(43.9 608.4) scale(0.93 1)" font-size="11.7" text-anchor="middle">16</text>
<text transform="translate(75.14 608.4) scale(0.93 1)" font-size="11.7" text-anchor="middle">20</text>
<text transform="translate(106.38 608.4) scale(0.93 1)" font-size="11.7" text-anchor="middle">24</text>
<text transform="translate(137.62 608.4) scale(0.93 1)" font-size="11.7" text-anchor="middle">28</text>
<text transform="translate(168.86 608.4) scale(0.93 1)" font-size="11.7" text-anchor="middle">32</text>
<text transform="translate(200.1 608.4) scale(0.93 1)" font-size="11.7" text-anchor="middle">36</text>
<text transform="translate(231.34 608.4) scale(0.93 1)" font-size="11.7" text-anchor="middle">40</text>
<text x="119.75" y="630.4" font-size="15.6" text-anchor="start" font-weight="normal" font-style="italic">M/M</text>
<text transform="translate(152.65 626.9) scale(0.4802)" x="-8.38" y="6.28" font-size="20" font-family="'DejaVu Sans',sans-serif" style="stroke:#000;stroke-width:0.21">⊙</text>
<text transform="translate(9.5 464) rotate(-90)" font-size="15.5" font-style="italic" text-anchor="middle">λ</text>
<text x="44" y="352.6" font-size="13.8" text-anchor="start" font-weight="bold" font-style="normal" class="hv">(d)</text>
<text font-size="10.2" font-weight="bold" class="hv"><tspan x="45.6" y="581">L</tspan><tspan x="51.7" y="584.8" font-size="5.5">j</tspan><tspan x="53.9" y="581">=5 × 10</tspan><tspan x="85.5" y="575.4" font-size="5.5">48</tspan><tspan x="93.8" y="581">erg s</tspan><tspan x="114.8" y="575.4" font-size="5.5">-1</tspan><tspan x="119.6" y="581">, T</tspan><tspan x="130.8" y="584.8" font-size="5.5">90, rest</tspan><tspan x="149.2" y="581">=1000 s</tspan></text>
<g fill="#000" stroke="none">
<rect x="41" y="390.5" width="5.8" height="5.8"/>
<rect x="56.62" y="390.8" width="5.8" height="5.8"/>
<rect x="72.24" y="393.3" width="5.8" height="5.8"/>
<rect x="87.86" y="390.5" width="5.8" height="5.8"/>
<rect x="103.48" y="379.1" width="5.8" height="5.8"/>
<rect x="119.1" y="360.7" width="5.8" height="5.8"/>
<rect x="134.72" y="347.7" width="5.8" height="5.8"/>
<rect x="150.34" y="459" width="5.8" height="5.8"/>
<rect x="165.96" y="467.2" width="5.8" height="5.8"/>
<path d="M43.9 386.05L47.8 392.75L40 392.75Z"/>
<path d="M59.52 389.75L63.42 396.45L55.62 396.45Z"/>
<path d="M75.14 397.15L79.04 403.85L71.24 403.85Z"/>
<path d="M90.76 389.55L94.66 396.25L86.86 396.25Z"/>
<path d="M106.38 382.95L110.28 389.65L102.48 389.65Z"/>
<path d="M122 378.15L125.9 384.85L118.1 384.85Z"/>
<path d="M137.62 381.15L141.52 387.85L133.72 387.85Z"/>
<path d="M153.24 384.15L157.14 390.85L149.34 390.85Z"/>
<path d="M168.86 390.05L172.76 396.75L164.96 396.75Z"/>
<path d="M184.48 396.65L188.38 403.35L180.58 403.35Z"/>
<path d="M200.1 398.75L204 405.45L196.2 405.45Z"/>
<path d="M215.72 400.65L219.62 407.35L211.82 407.35Z"/>
<path d="M231.34 407.45L235.24 414.15L227.44 414.15Z"/>
<path d="M43.9 469.95L47.8 463.25L40 463.25Z"/>
<path d="M59.52 492.75L63.42 486.05L55.62 486.05Z"/>
<path d="M75.14 507.05L79.04 500.35L71.24 500.35Z"/>
<path d="M90.76 506.75L94.66 500.05L86.86 500.05Z"/>
<path d="M106.38 513.85L110.28 507.15L102.48 507.15Z"/>
<path d="M122 513.05L125.9 506.35L118.1 506.35Z"/>
<path d="M137.62 514.25L141.52 507.55L133.72 507.55Z"/>
<path d="M153.24 514.85L157.14 508.15L149.34 508.15Z"/>
<path d="M168.86 512.25L172.76 505.55L164.96 505.55Z"/>
<path d="M184.48 512.15L188.38 505.45L180.58 505.45Z"/>
<path d="M200.1 513.55L204 506.85L196.2 506.85Z"/>
<path d="M215.72 512.15L219.62 505.45L211.82 505.45Z"/>
<path d="M231.34 514.65L235.24 507.95L227.44 507.95Z"/>
<path d="M43.9 503.8L44.84 506.51L47.7 506.56L45.42 508.29L46.25 511.04L43.9 509.4L41.55 511.04L42.38 508.29L40.1 506.56L42.96 506.51Z"/>
<path d="M59.52 513.6L60.46 516.31L63.32 516.36L61.04 518.09L61.87 520.84L59.52 519.2L57.17 520.84L58 518.09L55.72 516.36L58.58 516.31Z"/>
<path d="M75.14 513.3L76.08 516.01L78.94 516.06L76.66 517.79L77.49 520.54L75.14 518.9L72.79 520.54L73.62 517.79L71.34 516.06L74.2 516.01Z"/>
<path d="M90.76 522.8L91.7 525.51L94.56 525.56L92.28 527.29L93.11 530.04L90.76 528.4L88.41 530.04L89.24 527.29L86.96 525.56L89.82 525.51Z"/>
<path d="M106.38 522.5L107.32 525.21L110.18 525.26L107.9 526.99L108.73 529.74L106.38 528.1L104.03 529.74L104.86 526.99L102.58 525.26L105.44 525.21Z"/>
<path d="M122 523.4L122.94 526.11L125.8 526.16L123.52 527.89L124.35 530.64L122 529L119.65 530.64L120.48 527.89L118.2 526.16L121.06 526.11Z"/>
<path d="M137.62 522L138.56 524.71L141.42 524.76L139.14 526.49L139.97 529.24L137.62 527.6L135.27 529.24L136.1 526.49L133.82 524.76L136.68 524.71Z"/>
<path d="M153.24 522.9L154.18 525.61L157.04 525.66L154.76 527.39L155.59 530.14L153.24 528.5L150.89 530.14L151.72 527.39L149.44 525.66L152.3 525.61Z"/>
<path d="M168.86 522.5L169.8 525.21L172.66 525.26L170.38 526.99L171.21 529.74L168.86 528.1L166.51 529.74L167.34 526.99L165.06 525.26L167.92 525.21Z"/>
<path d="M184.48 522.8L185.42 525.51L188.28 525.56L186 527.29L186.83 530.04L184.48 528.4L182.13 530.04L182.96 527.29L180.68 525.56L183.54 525.51Z"/>
<path d="M200.1 519.6L201.04 522.31L203.9 522.36L201.62 524.09L202.45 526.84L200.1 525.2L197.75 526.84L198.58 524.09L196.3 522.36L199.16 522.31Z"/>
<path d="M215.72 521.7L216.66 524.41L219.52 524.46L217.24 526.19L218.07 528.94L215.72 527.3L213.37 528.94L214.2 526.19L211.92 524.46L214.78 524.41Z"/>
<path d="M231.34 521.5L232.28 524.21L235.14 524.26L232.86 525.99L233.69 528.74L231.34 527.1L228.99 528.74L229.82 525.99L227.54 524.26L230.4 524.21Z"/>
<circle cx="43.9" cy="545.2" r="3.3"/>
<circle cx="59.52" cy="548.1" r="3.3"/>
<circle cx="75.14" cy="546.6" r="3.3"/>
<circle cx="90.76" cy="548.7" r="3.3"/>
<circle cx="106.38" cy="546.9" r="3.3"/>
<circle cx="122" cy="546.6" r="3.3"/>
<circle cx="137.62" cy="548.1" r="3.3"/>
<circle cx="153.24" cy="548.9" r="3.3"/>
<circle cx="168.86" cy="543.4" r="3.3"/>
<circle cx="184.48" cy="544.9" r="3.3"/>
<circle cx="200.1" cy="546.9" r="3.3"/>
<circle cx="215.72" cy="547.8" r="3.3"/>
<circle cx="231.34" cy="548.1" r="3.3"/>
</g>
<rect x="294.25" y="335" width="203.05" height="155.3" fill="#ffff80" stroke="none"/>
<rect x="294.25" y="490.3" width="203.05" height="104.7" fill="#80ff80" stroke="none"/>
<line x1="294.25" y1="595" x2="299.15" y2="595" stroke-width="2.2"/>
<line x1="497.3" y1="595" x2="492.4" y2="595" stroke-width="2.2"/>
<line x1="294.25" y1="579.35" x2="297.05" y2="579.35" stroke-width="1.8"/>
<line x1="497.3" y1="579.35" x2="494.5" y2="579.35" stroke-width="1.8"/>
<line x1="294.25" y1="570.19" x2="297.05" y2="570.19" stroke-width="1.8"/>
<line x1="497.3" y1="570.19" x2="494.5" y2="570.19" stroke-width="1.8"/>
<line x1="294.25" y1="563.69" x2="297.05" y2="563.69" stroke-width="1.8"/>
<line x1="497.3" y1="563.69" x2="494.5" y2="563.69" stroke-width="1.8"/>
<line x1="294.25" y1="558.65" x2="297.05" y2="558.65" stroke-width="1.8"/>
<line x1="497.3" y1="558.65" x2="494.5" y2="558.65" stroke-width="1.8"/>
<line x1="294.25" y1="554.54" x2="297.05" y2="554.54" stroke-width="1.8"/>
<line x1="497.3" y1="554.54" x2="494.5" y2="554.54" stroke-width="1.8"/>
<line x1="294.25" y1="551.05" x2="297.05" y2="551.05" stroke-width="1.8"/>
<line x1="497.3" y1="551.05" x2="494.5" y2="551.05" stroke-width="1.8"/>
<line x1="294.25" y1="548.04" x2="297.05" y2="548.04" stroke-width="1.8"/>
<line x1="497.3" y1="548.04" x2="494.5" y2="548.04" stroke-width="1.8"/>
<line x1="294.25" y1="545.38" x2="297.05" y2="545.38" stroke-width="1.8"/>
<line x1="497.3" y1="545.38" x2="494.5" y2="545.38" stroke-width="1.8"/>
<line x1="294.25" y1="543" x2="299.15" y2="543" stroke-width="2.2"/>
<line x1="497.3" y1="543" x2="492.4" y2="543" stroke-width="2.2"/>
<line x1="294.25" y1="527.35" x2="297.05" y2="527.35" stroke-width="1.8"/>
<line x1="497.3" y1="527.35" x2="494.5" y2="527.35" stroke-width="1.8"/>
<line x1="294.25" y1="518.19" x2="297.05" y2="518.19" stroke-width="1.8"/>
<line x1="497.3" y1="518.19" x2="494.5" y2="518.19" stroke-width="1.8"/>
<line x1="294.25" y1="511.69" x2="297.05" y2="511.69" stroke-width="1.8"/>
<line x1="497.3" y1="511.69" x2="494.5" y2="511.69" stroke-width="1.8"/>
<line x1="294.25" y1="506.65" x2="297.05" y2="506.65" stroke-width="1.8"/>
<line x1="497.3" y1="506.65" x2="494.5" y2="506.65" stroke-width="1.8"/>
<line x1="294.25" y1="502.54" x2="297.05" y2="502.54" stroke-width="1.8"/>
<line x1="497.3" y1="502.54" x2="494.5" y2="502.54" stroke-width="1.8"/>
<line x1="294.25" y1="499.05" x2="297.05" y2="499.05" stroke-width="1.8"/>
<line x1="497.3" y1="499.05" x2="494.5" y2="499.05" stroke-width="1.8"/>
<line x1="294.25" y1="496.04" x2="297.05" y2="496.04" stroke-width="1.8"/>
<line x1="497.3" y1="496.04" x2="494.5" y2="496.04" stroke-width="1.8"/>
<line x1="294.25" y1="493.38" x2="297.05" y2="493.38" stroke-width="1.8"/>
<line x1="497.3" y1="493.38" x2="494.5" y2="493.38" stroke-width="1.8"/>
<line x1="294.25" y1="491" x2="299.15" y2="491" stroke-width="2.2"/>
<line x1="497.3" y1="491" x2="492.4" y2="491" stroke-width="2.2"/>
<line x1="294.25" y1="475.35" x2="297.05" y2="475.35" stroke-width="1.8"/>
<line x1="497.3" y1="475.35" x2="494.5" y2="475.35" stroke-width="1.8"/>
<line x1="294.25" y1="466.19" x2="297.05" y2="466.19" stroke-width="1.8"/>
<line x1="497.3" y1="466.19" x2="494.5" y2="466.19" stroke-width="1.8"/>
<line x1="294.25" y1="459.69" x2="297.05" y2="459.69" stroke-width="1.8"/>
<line x1="497.3" y1="459.69" x2="494.5" y2="459.69" stroke-width="1.8"/>
<line x1="294.25" y1="454.65" x2="297.05" y2="454.65" stroke-width="1.8"/>
<line x1="497.3" y1="454.65" x2="494.5" y2="454.65" stroke-width="1.8"/>
<line x1="294.25" y1="450.54" x2="297.05" y2="450.54" stroke-width="1.8"/>
<line x1="497.3" y1="450.54" x2="494.5" y2="450.54" stroke-width="1.8"/>
<line x1="294.25" y1="447.05" x2="297.05" y2="447.05" stroke-width="1.8"/>
<line x1="497.3" y1="447.05" x2="494.5" y2="447.05" stroke-width="1.8"/>
<line x1="294.25" y1="444.04" x2="297.05" y2="444.04" stroke-width="1.8"/>
<line x1="497.3" y1="444.04" x2="494.5" y2="444.04" stroke-width="1.8"/>
<line x1="294.25" y1="441.38" x2="297.05" y2="441.38" stroke-width="1.8"/>
<line x1="497.3" y1="441.38" x2="494.5" y2="441.38" stroke-width="1.8"/>
<line x1="294.25" y1="439" x2="299.15" y2="439" stroke-width="2.2"/>
<line x1="497.3" y1="439" x2="492.4" y2="439" stroke-width="2.2"/>
<line x1="294.25" y1="423.35" x2="297.05" y2="423.35" stroke-width="1.8"/>
<line x1="497.3" y1="423.35" x2="494.5" y2="423.35" stroke-width="1.8"/>
<line x1="294.25" y1="414.19" x2="297.05" y2="414.19" stroke-width="1.8"/>
<line x1="497.3" y1="414.19" x2="494.5" y2="414.19" stroke-width="1.8"/>
<line x1="294.25" y1="407.69" x2="297.05" y2="407.69" stroke-width="1.8"/>
<line x1="497.3" y1="407.69" x2="494.5" y2="407.69" stroke-width="1.8"/>
<line x1="294.25" y1="402.65" x2="297.05" y2="402.65" stroke-width="1.8"/>
<line x1="497.3" y1="402.65" x2="494.5" y2="402.65" stroke-width="1.8"/>
<line x1="294.25" y1="398.54" x2="297.05" y2="398.54" stroke-width="1.8"/>
<line x1="497.3" y1="398.54" x2="494.5" y2="398.54" stroke-width="1.8"/>
<line x1="294.25" y1="395.05" x2="297.05" y2="395.05" stroke-width="1.8"/>
<line x1="497.3" y1="395.05" x2="494.5" y2="395.05" stroke-width="1.8"/>
<line x1="294.25" y1="392.04" x2="297.05" y2="392.04" stroke-width="1.8"/>
<line x1="497.3" y1="392.04" x2="494.5" y2="392.04" stroke-width="1.8"/>
<line x1="294.25" y1="389.38" x2="297.05" y2="389.38" stroke-width="1.8"/>
<line x1="497.3" y1="389.38" x2="494.5" y2="389.38" stroke-width="1.8"/>
<line x1="294.25" y1="387" x2="299.15" y2="387" stroke-width="2.2"/>
<line x1="497.3" y1="387" x2="492.4" y2="387" stroke-width="2.2"/>
<line x1="294.25" y1="371.35" x2="297.05" y2="371.35" stroke-width="1.8"/>
<line x1="497.3" y1="371.35" x2="494.5" y2="371.35" stroke-width="1.8"/>
<line x1="294.25" y1="362.19" x2="297.05" y2="362.19" stroke-width="1.8"/>
<line x1="497.3" y1="362.19" x2="494.5" y2="362.19" stroke-width="1.8"/>
<line x1="294.25" y1="355.69" x2="297.05" y2="355.69" stroke-width="1.8"/>
<line x1="497.3" y1="355.69" x2="494.5" y2="355.69" stroke-width="1.8"/>
<line x1="294.25" y1="350.65" x2="297.05" y2="350.65" stroke-width="1.8"/>
<line x1="497.3" y1="350.65" x2="494.5" y2="350.65" stroke-width="1.8"/>
<line x1="294.25" y1="346.54" x2="297.05" y2="346.54" stroke-width="1.8"/>
<line x1="497.3" y1="346.54" x2="494.5" y2="346.54" stroke-width="1.8"/>
<line x1="294.25" y1="343.05" x2="297.05" y2="343.05" stroke-width="1.8"/>
<line x1="497.3" y1="343.05" x2="494.5" y2="343.05" stroke-width="1.8"/>
<line x1="294.25" y1="340.04" x2="297.05" y2="340.04" stroke-width="1.8"/>
<line x1="497.3" y1="340.04" x2="494.5" y2="340.04" stroke-width="1.8"/>
<line x1="294.25" y1="337.38" x2="297.05" y2="337.38" stroke-width="1.8"/>
<line x1="497.3" y1="337.38" x2="494.5" y2="337.38" stroke-width="1.8"/>
<line x1="294.25" y1="335" x2="299.15" y2="335" stroke-width="2.2"/>
<line x1="497.3" y1="335" x2="492.4" y2="335" stroke-width="2.2"/>
<line x1="302" y1="595" x2="302" y2="590.1" stroke-width="2.2"/>
<line x1="302" y1="335" x2="302" y2="339.9" stroke-width="2.2"/>
<line x1="317.62" y1="595" x2="317.62" y2="592.2" stroke-width="1.8"/>
<line x1="317.62" y1="335" x2="317.62" y2="337.8" stroke-width="1.8"/>
<line x1="333.24" y1="595" x2="333.24" y2="590.1" stroke-width="2.2"/>
<line x1="333.24" y1="335" x2="333.24" y2="339.9" stroke-width="2.2"/>
<line x1="348.86" y1="595" x2="348.86" y2="592.2" stroke-width="1.8"/>
<line x1="348.86" y1="335" x2="348.86" y2="337.8" stroke-width="1.8"/>
<line x1="364.48" y1="595" x2="364.48" y2="590.1" stroke-width="2.2"/>
<line x1="364.48" y1="335" x2="364.48" y2="339.9" stroke-width="2.2"/>
<line x1="380.1" y1="595" x2="380.1" y2="592.2" stroke-width="1.8"/>
<line x1="380.1" y1="335" x2="380.1" y2="337.8" stroke-width="1.8"/>
<line x1="395.72" y1="595" x2="395.72" y2="590.1" stroke-width="2.2"/>
<line x1="395.72" y1="335" x2="395.72" y2="339.9" stroke-width="2.2"/>
<line x1="411.34" y1="595" x2="411.34" y2="592.2" stroke-width="1.8"/>
<line x1="411.34" y1="335" x2="411.34" y2="337.8" stroke-width="1.8"/>
<line x1="426.96" y1="595" x2="426.96" y2="590.1" stroke-width="2.2"/>
<line x1="426.96" y1="335" x2="426.96" y2="339.9" stroke-width="2.2"/>
<line x1="442.58" y1="595" x2="442.58" y2="592.2" stroke-width="1.8"/>
<line x1="442.58" y1="335" x2="442.58" y2="337.8" stroke-width="1.8"/>
<line x1="458.2" y1="595" x2="458.2" y2="590.1" stroke-width="2.2"/>
<line x1="458.2" y1="335" x2="458.2" y2="339.9" stroke-width="2.2"/>
<line x1="473.82" y1="595" x2="473.82" y2="592.2" stroke-width="1.8"/>
<line x1="473.82" y1="335" x2="473.82" y2="337.8" stroke-width="1.8"/>
<line x1="489.44" y1="595" x2="489.44" y2="590.1" stroke-width="2.2"/>
<line x1="489.44" y1="335" x2="489.44" y2="339.9" stroke-width="2.2"/>
<rect x="294.25" y="335" width="203.05" height="260" fill="none" stroke-width="2.2"/>
<text transform="translate(289.75 599.9) scale(0.93 1)" font-size="11.7" text-anchor="end">10<tspan font-size="7.4" dy="-6" dx="0.2">-2</tspan></text>
<text transform="translate(289.75 547.9) scale(0.93 1)" font-size="11.7" text-anchor="end">10<tspan font-size="7.4" dy="-6" dx="0.2">-1</tspan></text>
<text transform="translate(289.75 495.9) scale(0.93 1)" font-size="11.7" text-anchor="end">10<tspan font-size="7.4" dy="-6" dx="0.2">0</tspan></text>
<text transform="translate(289.75 443.9) scale(0.93 1)" font-size="11.7" text-anchor="end">10<tspan font-size="7.4" dy="-6" dx="0.2">1</tspan></text>
<text transform="translate(289.75 391.9) scale(0.93 1)" font-size="11.7" text-anchor="end">10<tspan font-size="7.4" dy="-6" dx="0.2">2</tspan></text>
<text transform="translate(289.75 339.9) scale(0.93 1)" font-size="11.7" text-anchor="end">10<tspan font-size="7.4" dy="-6" dx="0.2">3</tspan></text>
<text transform="translate(302 608.7) scale(0.93 1)" font-size="11.7" text-anchor="middle">16</text>
<text transform="translate(333.24 608.7) scale(0.93 1)" font-size="11.7" text-anchor="middle">20</text>
<text transform="translate(364.48 608.7) scale(0.93 1)" font-size="11.7" text-anchor="middle">24</text>
<text transform="translate(395.72 608.7) scale(0.93 1)" font-size="11.7" text-anchor="middle">28</text>
<text transform="translate(426.96 608.7) scale(0.93 1)" font-size="11.7" text-anchor="middle">32</text>
<text transform="translate(458.2 608.7) scale(0.93 1)" font-size="11.7" text-anchor="middle">36</text>
<text transform="translate(489.44 608.7) scale(0.93 1)" font-size="11.7" text-anchor="middle">40</text>
<text x="377.88" y="630.7" font-size="15.6" text-anchor="start" font-weight="normal" font-style="italic">M/M</text>
<text transform="translate(410.77 627.2) scale(0.4802)" x="-8.38" y="6.28" font-size="20" font-family="'DejaVu Sans',sans-serif" style="stroke:#000;stroke-width:0.21">⊙</text>
<text transform="translate(267.65 464.5) rotate(-90)" font-size="15.5" font-style="italic" text-anchor="middle">λ</text>
<text x="300.3" y="354.4" font-size="13.8" text-anchor="start" font-weight="bold" font-style="normal" class="hv">(e)</text>
<text font-size="10.2" font-weight="bold" class="hv"><tspan x="304.4" y="580.6">L</tspan><tspan x="310.5" y="584.4" font-size="5.5">j</tspan><tspan x="312.7" y="580.6">=5 × 10</tspan><tspan x="344.3" y="575" font-size="5.5">48</tspan><tspan x="352.6" y="580.6">erg s</tspan><tspan x="373.6" y="575" font-size="5.5">-1</tspan><tspan x="378.4" y="580.6">, T</tspan><tspan x="389.6" y="584.4" font-size="5.5">90, rest</tspan><tspan x="408" y="580.6">=2000 s</tspan></text>
<g fill="#000" stroke="none">
<rect x="299.1" y="388.1" width="5.8" height="5.8"/>
<rect x="314.72" y="387.8" width="5.8" height="5.8"/>
<rect x="330.34" y="390.8" width="5.8" height="5.8"/>
<rect x="345.96" y="387" width="5.8" height="5.8"/>
<rect x="361.58" y="377.5" width="5.8" height="5.8"/>
<rect x="377.2" y="359.9" width="5.8" height="5.8"/>
<rect x="392.82" y="346.1" width="5.8" height="5.8"/>
<rect x="408.44" y="459.8" width="5.8" height="5.8"/>
<rect x="424.06" y="468" width="5.8" height="5.8"/>
<path d="M302 384.95L305.9 391.65L298.1 391.65Z"/>
<path d="M317.62 389.55L321.52 396.25L313.72 396.25Z"/>
<path d="M333.24 396.35L337.14 403.05L329.34 403.05Z"/>
<path d="M348.86 389.55L352.76 396.25L344.96 396.25Z"/>
<path d="M364.48 382.45L368.38 389.15L360.58 389.15Z"/>
<path d="M380.1 378.45L384 385.15L376.2 385.15Z"/>
<path d="M395.72 381.55L399.62 388.25L391.82 388.25Z"/>
<path d="M411.34 384.35L415.24 391.05L407.44 391.05Z"/>
<path d="M426.96 390.05L430.86 396.75L423.06 396.75Z"/>
<path d="M442.58 396.65L446.48 403.35L438.68 403.35Z"/>
<path d="M458.2 398.95L462.1 405.65L454.3 405.65Z"/>
<path d="M473.82 400.65L477.72 407.35L469.92 407.35Z"/>
<path d="M489.44 406.95L493.34 413.65L485.54 413.65Z"/>
<path d="M302 470.15L305.9 463.45L298.1 463.45Z"/>
<path d="M317.62 493.45L321.52 486.75L313.72 486.75Z"/>
<path d="M333.24 506.75L337.14 500.05L329.34 500.05Z"/>
<path d="M348.86 506.45L352.76 499.75L344.96 499.75Z"/>
<path d="M364.48 513.55L368.38 506.85L360.58 506.85Z"/>
<path d="M380.1 512.65L384 505.95L376.2 505.95Z"/>
<path d="M395.72 513.95L399.62 507.25L391.82 507.25Z"/>
<path d="M411.34 514.55L415.24 507.85L407.44 507.85Z"/>
<path d="M426.96 511.95L430.86 505.25L423.06 505.25Z"/>
<path d="M442.58 511.65L446.48 504.95L438.68 504.95Z"/>
<path d="M458.2 513.25L462.1 506.55L454.3 506.55Z"/>
<path d="M473.82 511.85L477.72 505.15L469.92 505.15Z"/>
<path d="M489.44 514.35L493.34 507.65L485.54 507.65Z"/>
<path d="M302 504.1L302.94 506.81L305.8 506.86L303.52 508.59L304.35 511.34L302 509.7L299.65 511.34L300.48 508.59L298.2 506.86L301.06 506.81Z"/>
<path d="M317.62 513.3L318.56 516.01L321.42 516.06L319.14 517.79L319.97 520.54L317.62 518.9L315.27 520.54L316.1 517.79L313.82 516.06L316.68 516.01Z"/>
<path d="M333.24 512.3L334.18 515.01L337.04 515.06L334.76 516.79L335.59 519.54L333.24 517.9L330.89 519.54L331.72 516.79L329.44 515.06L332.3 515.01Z"/>
<path d="M348.86 521.5L349.8 524.21L352.66 524.26L350.38 525.99L351.21 528.74L348.86 527.1L346.51 528.74L347.34 525.99L345.06 524.26L347.92 524.21Z"/>
<path d="M364.48 521.2L365.42 523.91L368.28 523.96L366 525.69L366.83 528.44L364.48 526.8L362.13 528.44L362.96 525.69L360.68 523.96L363.54 523.91Z"/>
<path d="M380.1 522.5L381.04 525.21L383.9 525.26L381.62 526.99L382.45 529.74L380.1 528.1L377.75 529.74L378.58 526.99L376.3 525.26L379.16 525.21Z"/>
<path d="M395.72 520.6L396.66 523.31L399.52 523.36L397.24 525.09L398.07 527.84L395.72 526.2L393.37 527.84L394.2 525.09L391.92 523.36L394.78 523.31Z"/>
<path d="M411.34 522L412.28 524.71L415.14 524.76L412.86 526.49L413.69 529.24L411.34 527.6L408.99 529.24L409.82 526.49L407.54 524.76L410.4 524.71Z"/>
<path d="M426.96 521.5L427.9 524.21L430.76 524.26L428.48 525.99L429.31 528.74L426.96 527.1L424.61 528.74L425.44 525.99L423.16 524.26L426.02 524.21Z"/>
<path d="M442.58 522L443.52 524.71L446.38 524.76L444.1 526.49L444.93 529.24L442.58 527.6L440.23 529.24L441.06 526.49L438.78 524.76L441.64 524.71Z"/>
<path d="M458.2 518.8L459.14 521.51L462 521.56L459.72 523.29L460.55 526.04L458.2 524.4L455.85 526.04L456.68 523.29L454.4 521.56L457.26 521.51Z"/>
<path d="M473.82 520.7L474.76 523.41L477.62 523.46L475.34 525.19L476.17 527.94L473.82 526.3L471.47 527.94L472.3 525.19L470.02 523.46L472.88 523.41Z"/>
<path d="M489.44 520.4L490.38 523.11L493.24 523.16L490.96 524.89L491.79 527.64L489.44 526L487.09 527.64L487.92 524.89L485.64 523.16L488.5 523.11Z"/>
<circle cx="302" cy="542.6" r="3.3"/>
<circle cx="317.62" cy="545.5" r="3.3"/>
<circle cx="333.24" cy="544" r="3.3"/>
<circle cx="348.86" cy="546.6" r="3.3"/>
<circle cx="364.48" cy="544.6" r="3.3"/>
<circle cx="380.1" cy="544.3" r="3.3"/>
<circle cx="395.72" cy="546" r="3.3"/>
<circle cx="411.34" cy="547.2" r="3.3"/>
<circle cx="426.96" cy="541.4" r="3.3"/>
<circle cx="442.58" cy="542.9" r="3.3"/>
<circle cx="458.2" cy="544.9" r="3.3"/>
<circle cx="473.82" cy="545.8" r="3.3"/>
<circle cx="489.44" cy="546.3" r="3.3"/>
</g>
<rect x="553.5" y="333.5" width="203.5" height="155.18" fill="#ffff80" stroke="none"/>
<rect x="553.5" y="488.68" width="203.5" height="104.62" fill="#80ff80" stroke="none"/>
<rect x="671.5" y="344.3" width="71" height="71" fill="#fff" stroke="#8a8a8a" stroke-width="0.7"/>
<g fill="#000" stroke="none">
<rect x="683.9" y="349.9" width="6.2" height="6.2"/>
<path d="M687 363.9L691.1 370.9L682.9 370.9Z"/>
<path d="M687 385.3L691.1 378.3L682.9 378.3Z"/>
<path d="M687 392.37L687.87 394.87L690.52 394.93L688.41 396.53L689.17 399.06L687 397.55L684.83 399.06L685.59 396.53L683.48 394.93L686.13 394.87Z"/>
<circle cx="687" cy="408.3" r="3.4"/>
<text x="700.6" y="356.3" font-size="10.2" text-anchor="start" font-weight="normal" font-style="normal">Z=Z</text>
<text transform="translate(721.3 354) scale(0.3430)" x="-8.38" y="6.28" font-size="20" font-family="'DejaVu Sans',sans-serif" style="stroke:#000;stroke-width:0.58">⊙</text>
<text x="700.6" y="370.4" font-size="10.2" text-anchor="start" font-weight="normal" font-style="normal">Z=10<tspan font-size="6.0" dy="-5.9" dx="1.3">-1</tspan><tspan dy="5.9" dx="-0.6">Z</tspan></text>
<text transform="translate(736.5 368.2) scale(0.3430)" x="-8.38" y="6.28" font-size="20" font-family="'DejaVu Sans',sans-serif" style="stroke:#000;stroke-width:0.58">⊙</text>
<text x="700.6" y="384.5" font-size="10.2" text-anchor="start" font-weight="normal" font-style="normal">Z=10<tspan font-size="6.0" dy="-5.9" dx="1.3">-2</tspan><tspan dy="5.9" dx="-0.6">Z</tspan></text>
<text transform="translate(736.5 382.3) scale(0.3430)" x="-8.38" y="6.28" font-size="20" font-family="'DejaVu Sans',sans-serif" style="stroke:#000;stroke-width:0.58">⊙</text>
<text x="700.6" y="398.7" font-size="10.2" text-anchor="start" font-weight="normal" font-style="normal">Z=10<tspan font-size="6.0" dy="-5.9" dx="1.3">-4</tspan><tspan dy="5.9" dx="-0.6">Z</tspan></text>
<text transform="translate(736.5 396.5) scale(0.3430)" x="-8.38" y="6.28" font-size="20" font-family="'DejaVu Sans',sans-serif" style="stroke:#000;stroke-width:0.58">⊙</text>
<text x="700.6" y="411.6" font-size="10.2" text-anchor="start" font-weight="normal" font-style="normal">Z=0</text>
</g>
<line x1="553.5" y1="593.3" x2="558.4" y2="593.3" stroke-width="2.2"/>
<line x1="757" y1="593.3" x2="752.1" y2="593.3" stroke-width="2.2"/>
<line x1="553.5" y1="577.66" x2="556.3" y2="577.66" stroke-width="1.8"/>
<line x1="757" y1="577.66" x2="754.2" y2="577.66" stroke-width="1.8"/>
<line x1="553.5" y1="568.51" x2="556.3" y2="568.51" stroke-width="1.8"/>
<line x1="757" y1="568.51" x2="754.2" y2="568.51" stroke-width="1.8"/>
<line x1="553.5" y1="562.02" x2="556.3" y2="562.02" stroke-width="1.8"/>
<line x1="757" y1="562.02" x2="754.2" y2="562.02" stroke-width="1.8"/>
<line x1="553.5" y1="556.98" x2="556.3" y2="556.98" stroke-width="1.8"/>
<line x1="757" y1="556.98" x2="754.2" y2="556.98" stroke-width="1.8"/>
<line x1="553.5" y1="552.87" x2="556.3" y2="552.87" stroke-width="1.8"/>
<line x1="757" y1="552.87" x2="754.2" y2="552.87" stroke-width="1.8"/>
<line x1="553.5" y1="549.39" x2="556.3" y2="549.39" stroke-width="1.8"/>
<line x1="757" y1="549.39" x2="754.2" y2="549.39" stroke-width="1.8"/>
<line x1="553.5" y1="546.38" x2="556.3" y2="546.38" stroke-width="1.8"/>
<line x1="757" y1="546.38" x2="754.2" y2="546.38" stroke-width="1.8"/>
<line x1="553.5" y1="543.72" x2="556.3" y2="543.72" stroke-width="1.8"/>
<line x1="757" y1="543.72" x2="754.2" y2="543.72" stroke-width="1.8"/>
<line x1="553.5" y1="541.34" x2="558.4" y2="541.34" stroke-width="2.2"/>
<line x1="757" y1="541.34" x2="752.1" y2="541.34" stroke-width="2.2"/>
<line x1="553.5" y1="525.7" x2="556.3" y2="525.7" stroke-width="1.8"/>
<line x1="757" y1="525.7" x2="754.2" y2="525.7" stroke-width="1.8"/>
<line x1="553.5" y1="516.55" x2="556.3" y2="516.55" stroke-width="1.8"/>
<line x1="757" y1="516.55" x2="754.2" y2="516.55" stroke-width="1.8"/>
<line x1="553.5" y1="510.06" x2="556.3" y2="510.06" stroke-width="1.8"/>
<line x1="757" y1="510.06" x2="754.2" y2="510.06" stroke-width="1.8"/>
<line x1="553.5" y1="505.02" x2="556.3" y2="505.02" stroke-width="1.8"/>
<line x1="757" y1="505.02" x2="754.2" y2="505.02" stroke-width="1.8"/>
<line x1="553.5" y1="500.91" x2="556.3" y2="500.91" stroke-width="1.8"/>
<line x1="757" y1="500.91" x2="754.2" y2="500.91" stroke-width="1.8"/>
<line x1="553.5" y1="497.43" x2="556.3" y2="497.43" stroke-width="1.8"/>
<line x1="757" y1="497.43" x2="754.2" y2="497.43" stroke-width="1.8"/>
<line x1="553.5" y1="494.42" x2="556.3" y2="494.42" stroke-width="1.8"/>
<line x1="757" y1="494.42" x2="754.2" y2="494.42" stroke-width="1.8"/>
<line x1="553.5" y1="491.76" x2="556.3" y2="491.76" stroke-width="1.8"/>
<line x1="757" y1="491.76" x2="754.2" y2="491.76" stroke-width="1.8"/>
<line x1="553.5" y1="489.38" x2="558.4" y2="489.38" stroke-width="2.2"/>
<line x1="757" y1="489.38" x2="752.1" y2="489.38" stroke-width="2.2"/>
<line x1="553.5" y1="473.74" x2="556.3" y2="473.74" stroke-width="1.8"/>
<line x1="757" y1="473.74" x2="754.2" y2="473.74" stroke-width="1.8"/>
<line x1="553.5" y1="464.59" x2="556.3" y2="464.59" stroke-width="1.8"/>
<line x1="757" y1="464.59" x2="754.2" y2="464.59" stroke-width="1.8"/>
<line x1="553.5" y1="458.1" x2="556.3" y2="458.1" stroke-width="1.8"/>
<line x1="757" y1="458.1" x2="754.2" y2="458.1" stroke-width="1.8"/>
<line x1="553.5" y1="453.06" x2="556.3" y2="453.06" stroke-width="1.8"/>
<line x1="757" y1="453.06" x2="754.2" y2="453.06" stroke-width="1.8"/>
<line x1="553.5" y1="448.95" x2="556.3" y2="448.95" stroke-width="1.8"/>
<line x1="757" y1="448.95" x2="754.2" y2="448.95" stroke-width="1.8"/>
<line x1="553.5" y1="445.47" x2="556.3" y2="445.47" stroke-width="1.8"/>
<line x1="757" y1="445.47" x2="754.2" y2="445.47" stroke-width="1.8"/>
<line x1="553.5" y1="442.46" x2="556.3" y2="442.46" stroke-width="1.8"/>
<line x1="757" y1="442.46" x2="754.2" y2="442.46" stroke-width="1.8"/>
<line x1="553.5" y1="439.8" x2="556.3" y2="439.8" stroke-width="1.8"/>
<line x1="757" y1="439.8" x2="754.2" y2="439.8" stroke-width="1.8"/>
<line x1="553.5" y1="437.42" x2="558.4" y2="437.42" stroke-width="2.2"/>
<line x1="757" y1="437.42" x2="752.1" y2="437.42" stroke-width="2.2"/>
<line x1="553.5" y1="421.78" x2="556.3" y2="421.78" stroke-width="1.8"/>
<line x1="757" y1="421.78" x2="754.2" y2="421.78" stroke-width="1.8"/>
<line x1="553.5" y1="412.63" x2="556.3" y2="412.63" stroke-width="1.8"/>
<line x1="757" y1="412.63" x2="754.2" y2="412.63" stroke-width="1.8"/>
<line x1="553.5" y1="406.14" x2="556.3" y2="406.14" stroke-width="1.8"/>
<line x1="757" y1="406.14" x2="754.2" y2="406.14" stroke-width="1.8"/>
<line x1="553.5" y1="401.1" x2="556.3" y2="401.1" stroke-width="1.8"/>
<line x1="757" y1="401.1" x2="754.2" y2="401.1" stroke-width="1.8"/>
<line x1="553.5" y1="396.99" x2="556.3" y2="396.99" stroke-width="1.8"/>
<line x1="757" y1="396.99" x2="754.2" y2="396.99" stroke-width="1.8"/>
<line x1="553.5" y1="393.51" x2="556.3" y2="393.51" stroke-width="1.8"/>
<line x1="757" y1="393.51" x2="754.2" y2="393.51" stroke-width="1.8"/>
<line x1="553.5" y1="390.5" x2="556.3" y2="390.5" stroke-width="1.8"/>
<line x1="757" y1="390.5" x2="754.2" y2="390.5" stroke-width="1.8"/>
<line x1="553.5" y1="387.84" x2="556.3" y2="387.84" stroke-width="1.8"/>
<line x1="757" y1="387.84" x2="754.2" y2="387.84" stroke-width="1.8"/>
<line x1="553.5" y1="385.46" x2="558.4" y2="385.46" stroke-width="2.2"/>
<line x1="757" y1="385.46" x2="752.1" y2="385.46" stroke-width="2.2"/>
<line x1="553.5" y1="369.82" x2="556.3" y2="369.82" stroke-width="1.8"/>
<line x1="757" y1="369.82" x2="754.2" y2="369.82" stroke-width="1.8"/>
<line x1="553.5" y1="360.67" x2="556.3" y2="360.67" stroke-width="1.8"/>
<line x1="757" y1="360.67" x2="754.2" y2="360.67" stroke-width="1.8"/>
<line x1="553.5" y1="354.18" x2="556.3" y2="354.18" stroke-width="1.8"/>
<line x1="757" y1="354.18" x2="754.2" y2="354.18" stroke-width="1.8"/>
<line x1="553.5" y1="349.14" x2="556.3" y2="349.14" stroke-width="1.8"/>
<line x1="757" y1="349.14" x2="754.2" y2="349.14" stroke-width="1.8"/>
<line x1="553.5" y1="345.03" x2="556.3" y2="345.03" stroke-width="1.8"/>
<line x1="757" y1="345.03" x2="754.2" y2="345.03" stroke-width="1.8"/>
<line x1="553.5" y1="341.55" x2="556.3" y2="341.55" stroke-width="1.8"/>
<line x1="757" y1="341.55" x2="754.2" y2="341.55" stroke-width="1.8"/>
<line x1="553.5" y1="338.54" x2="556.3" y2="338.54" stroke-width="1.8"/>
<line x1="757" y1="338.54" x2="754.2" y2="338.54" stroke-width="1.8"/>
<line x1="553.5" y1="335.88" x2="556.3" y2="335.88" stroke-width="1.8"/>
<line x1="757" y1="335.88" x2="754.2" y2="335.88" stroke-width="1.8"/>
<line x1="553.5" y1="333.5" x2="558.4" y2="333.5" stroke-width="2.2"/>
<line x1="757" y1="333.5" x2="752.1" y2="333.5" stroke-width="2.2"/>
<line x1="553.5" y1="593.3" x2="553.5" y2="588.4" stroke-width="2.2"/>
<line x1="553.5" y1="333.5" x2="553.5" y2="338.4" stroke-width="2.2"/>
<line x1="583.45" y1="593.3" x2="583.45" y2="590.5" stroke-width="1.8"/>
<line x1="583.45" y1="333.5" x2="583.45" y2="336.3" stroke-width="1.8"/>
<line x1="600.97" y1="593.3" x2="600.97" y2="590.5" stroke-width="1.8"/>
<line x1="600.97" y1="333.5" x2="600.97" y2="336.3" stroke-width="1.8"/>
<line x1="613.4" y1="593.3" x2="613.4" y2="590.5" stroke-width="1.8"/>
<line x1="613.4" y1="333.5" x2="613.4" y2="336.3" stroke-width="1.8"/>
<line x1="623.05" y1="593.3" x2="623.05" y2="590.5" stroke-width="1.8"/>
<line x1="623.05" y1="333.5" x2="623.05" y2="336.3" stroke-width="1.8"/>
<line x1="630.93" y1="593.3" x2="630.93" y2="590.5" stroke-width="1.8"/>
<line x1="630.93" y1="333.5" x2="630.93" y2="336.3" stroke-width="1.8"/>
<line x1="637.59" y1="593.3" x2="637.59" y2="590.5" stroke-width="1.8"/>
<line x1="637.59" y1="333.5" x2="637.59" y2="336.3" stroke-width="1.8"/>
<line x1="643.36" y1="593.3" x2="643.36" y2="590.5" stroke-width="1.8"/>
<line x1="643.36" y1="333.5" x2="643.36" y2="336.3" stroke-width="1.8"/>
<line x1="648.45" y1="593.3" x2="648.45" y2="590.5" stroke-width="1.8"/>
<line x1="648.45" y1="333.5" x2="648.45" y2="336.3" stroke-width="1.8"/>
<line x1="653" y1="593.3" x2="653" y2="588.4" stroke-width="2.2"/>
<line x1="653" y1="333.5" x2="653" y2="338.4" stroke-width="2.2"/>
<line x1="682.95" y1="593.3" x2="682.95" y2="590.5" stroke-width="1.8"/>
<line x1="682.95" y1="333.5" x2="682.95" y2="336.3" stroke-width="1.8"/>
<line x1="700.47" y1="593.3" x2="700.47" y2="590.5" stroke-width="1.8"/>
<line x1="700.47" y1="333.5" x2="700.47" y2="336.3" stroke-width="1.8"/>
<line x1="712.9" y1="593.3" x2="712.9" y2="590.5" stroke-width="1.8"/>
<line x1="712.9" y1="333.5" x2="712.9" y2="336.3" stroke-width="1.8"/>
<line x1="722.55" y1="593.3" x2="722.55" y2="590.5" stroke-width="1.8"/>
<line x1="722.55" y1="333.5" x2="722.55" y2="336.3" stroke-width="1.8"/>
<line x1="730.43" y1="593.3" x2="730.43" y2="590.5" stroke-width="1.8"/>
<line x1="730.43" y1="333.5" x2="730.43" y2="336.3" stroke-width="1.8"/>
<line x1="737.09" y1="593.3" x2="737.09" y2="590.5" stroke-width="1.8"/>
<line x1="737.09" y1="333.5" x2="737.09" y2="336.3" stroke-width="1.8"/>
<line x1="742.86" y1="593.3" x2="742.86" y2="590.5" stroke-width="1.8"/>
<line x1="742.86" y1="333.5" x2="742.86" y2="336.3" stroke-width="1.8"/>
<line x1="747.95" y1="593.3" x2="747.95" y2="590.5" stroke-width="1.8"/>
<line x1="747.95" y1="333.5" x2="747.95" y2="336.3" stroke-width="1.8"/>
<line x1="752.5" y1="593.3" x2="752.5" y2="588.4" stroke-width="2.2"/>
<line x1="752.5" y1="333.5" x2="752.5" y2="338.4" stroke-width="2.2"/>
<rect x="553.5" y="333.5" width="203.5" height="259.8" fill="none" stroke-width="2.2"/>
<text transform="translate(549 598.2) scale(0.93 1)" font-size="11.7" text-anchor="end">10<tspan font-size="7.4" dy="-6" dx="0.2">-2</tspan></text>
<text transform="translate(549 546.24) scale(0.93 1)" font-size="11.7" text-anchor="end">10<tspan font-size="7.4" dy="-6" dx="0.2">-1</tspan></text>
<text transform="translate(549 494.28) scale(0.93 1)" font-size="11.7" text-anchor="end">10<tspan font-size="7.4" dy="-6" dx="0.2">0</tspan></text>
<text transform="translate(549 442.32) scale(0.93 1)" font-size="11.7" text-anchor="end">10<tspan font-size="7.4" dy="-6" dx="0.2">1</tspan></text>
<text transform="translate(549 390.36) scale(0.93 1)" font-size="11.7" text-anchor="end">10<tspan font-size="7.4" dy="-6" dx="0.2">2</tspan></text>
<text transform="translate(549 338.4) scale(0.93 1)" font-size="11.7" text-anchor="end">10<tspan font-size="7.4" dy="-6" dx="0.2">3</tspan></text>
<text transform="translate(547.5 609.1) scale(0.93 1)" font-size="11.7" text-anchor="start">10<tspan font-size="7.4" dy="-6" dx="0.2">1</tspan></text>
<text transform="translate(647 609.1) scale(0.93 1)" font-size="11.7" text-anchor="start">10<tspan font-size="7.4" dy="-6" dx="0.2">2</tspan></text>
<text transform="translate(746.5 609.1) scale(0.93 1)" font-size="11.7" text-anchor="start">10<tspan font-size="7.4" dy="-6" dx="0.2">3</tspan></text>
<text x="637.35" y="629" font-size="15.6" text-anchor="start" font-weight="normal" font-style="italic">M/M</text>
<text transform="translate(670.25 625.5) scale(0.4802)" x="-8.38" y="6.28" font-size="20" font-family="'DejaVu Sans',sans-serif" style="stroke:#000;stroke-width:0.21">⊙</text>
<text transform="translate(526.9 462.9) rotate(-90)" font-size="15.5" font-style="italic" text-anchor="middle">λ</text>
<text x="560.8" y="353.4" font-size="13.8" text-anchor="start" font-weight="bold" font-style="normal" class="hv">(f)</text>
<text x="563.8" y="578.3" font-size="9.9" text-anchor="start" font-weight="bold" font-style="normal" class="hv">GRB 111209A</text>
<g fill="#000" stroke="none">
<rect x="570.91" y="384" width="5.8" height="5.8"/>
<rect x="576" y="384.6" width="5.8" height="5.8"/>
<rect x="580.55" y="386.9" width="5.8" height="5.8"/>
<rect x="584.67" y="381.1" width="5.8" height="5.8"/>
<rect x="588.43" y="374" width="5.8" height="5.8"/>
<rect x="591.89" y="356.1" width="5.8" height="5.8"/>
<rect x="595.09" y="342.6" width="5.8" height="5.8"/>
<rect x="598.07" y="462.9" width="5.8" height="5.8"/>
<rect x="600.86" y="471" width="5.8" height="5.8"/>
<path d="M573.81 380.85L577.71 387.55L569.91 387.55Z"/>
<path d="M578.9 386.25L582.8 392.95L575 392.95Z"/>
<path d="M583.45 394.35L587.35 401.05L579.55 401.05Z"/>
<path d="M587.57 384.35L591.47 391.05L583.67 391.05Z"/>
<path d="M591.33 380.55L595.23 387.25L587.43 387.25Z"/>
<path d="M594.79 378.05L598.69 384.75L590.89 384.75Z"/>
<path d="M597.99 380.25L601.89 386.95L594.09 386.95Z"/>
<path d="M600.97 383.05L604.87 389.75L597.07 389.75Z"/>
<path d="M603.76 388.65L607.66 395.35L599.86 395.35Z"/>
<path d="M606.38 397.05L610.28 403.75L602.48 403.75Z"/>
<path d="M608.85 398.95L612.75 405.65L604.95 405.65Z"/>
<path d="M611.19 400.25L615.09 406.95L607.29 406.95Z"/>
<path d="M613.4 407.15L617.3 413.85L609.5 413.85Z"/>
<path d="M623.05 440.45L626.95 447.15L619.15 447.15Z"/>
<path d="M630.93 451.55L634.83 458.25L627.03 458.25Z"/>
<path d="M640.57 458.35L644.47 465.05L636.67 465.05Z"/>
<path d="M643.36 462.75L647.26 469.45L639.46 469.45Z"/>
<path d="M573.81 472.15L577.71 465.45L569.91 465.45Z"/>
<path d="M578.9 493.75L582.8 487.05L575 487.05Z"/>
<path d="M583.45 506.35L587.35 499.65L579.55 499.65Z"/>
<path d="M587.57 505.95L591.47 499.25L583.67 499.25Z"/>
<path d="M591.33 512.05L595.23 505.35L587.43 505.35Z"/>
<path d="M594.79 511.45L598.69 504.75L590.89 504.75Z"/>
<path d="M597.99 512.35L601.89 505.65L594.09 505.65Z"/>
<path d="M600.97 512.35L604.87 505.65L597.07 505.65Z"/>
<path d="M603.76 510.35L607.66 503.65L599.86 503.65Z"/>
<path d="M606.38 510.05L610.28 503.35L602.48 503.35Z"/>
<path d="M608.85 511.05L612.75 504.35L604.95 504.35Z"/>
<path d="M611.19 510.35L615.09 503.65L607.29 503.65Z"/>
<path d="M613.4 514.15L617.3 507.45L609.5 507.45Z"/>
<path d="M630.93 506.65L634.83 499.95L627.03 499.95Z"/>
<path d="M634.38 506.85L638.28 500.15L630.48 500.15Z"/>
<path d="M637.59 510.75L641.49 504.05L633.69 504.05Z"/>
<path d="M643.36 506.35L647.26 499.65L639.46 499.65Z"/>
<path d="M573.81 505.3L574.75 508.01L577.61 508.06L575.33 509.79L576.16 512.54L573.81 510.9L571.46 512.54L572.29 509.79L570.01 508.06L572.87 508.01Z"/>
<path d="M578.9 512L579.84 514.71L582.7 514.76L580.42 516.49L581.25 519.24L578.9 517.6L576.55 519.24L577.38 516.49L575.1 514.76L577.96 514.71Z"/>
<path d="M583.45 509.7L584.39 512.41L587.26 512.46L584.97 514.19L585.8 516.94L583.45 515.3L581.1 516.94L581.93 514.19L579.65 512.46L582.51 512.41Z"/>
<path d="M587.57 518.1L588.51 520.81L591.38 520.86L589.09 522.59L589.92 525.34L587.57 523.7L585.22 525.34L586.05 522.59L583.77 520.86L586.63 520.81Z"/>
<path d="M591.33 517.8L592.27 520.51L595.14 520.56L592.85 522.29L593.68 525.04L591.33 523.4L588.98 525.04L589.81 522.29L587.53 520.56L590.39 520.51Z"/>
<path d="M594.79 519.1L595.73 521.81L598.59 521.86L596.31 523.59L597.14 526.34L594.79 524.7L592.44 526.34L593.27 523.59L590.99 521.86L593.85 521.81Z"/>
<path d="M597.99 517.2L598.93 519.91L601.8 519.96L599.51 521.69L600.34 524.44L597.99 522.8L595.64 524.44L596.47 521.69L594.19 519.96L597.05 519.91Z"/>
<path d="M600.97 518.6L601.91 521.31L604.78 521.36L602.5 523.09L603.32 525.84L600.97 524.2L598.62 525.84L599.45 523.09L597.17 521.36L600.03 521.31Z"/>
<path d="M603.76 518.1L604.7 520.81L607.57 520.86L605.28 522.59L606.11 525.34L603.76 523.7L601.41 525.34L602.24 522.59L599.96 520.86L602.82 520.81Z"/>
<path d="M606.38 518.6L607.32 521.31L610.19 521.36L607.9 523.09L608.73 525.84L606.38 524.2L604.03 525.84L604.86 523.09L602.58 521.36L605.44 521.31Z"/>
<path d="M608.85 515.2L609.79 517.91L612.66 517.96L610.37 519.69L611.2 522.44L608.85 520.8L606.5 522.44L607.33 519.69L605.05 517.96L607.91 517.91Z"/>
<path d="M611.19 517.3L612.13 520.01L614.99 520.06L612.71 521.79L613.54 524.54L611.19 522.9L608.84 524.54L609.67 521.79L607.38 520.06L610.25 520.01Z"/>
<path d="M613.4 517.2L614.35 519.91L617.21 519.96L614.93 521.69L615.76 524.44L613.4 522.8L611.05 524.44L611.88 521.69L609.6 519.96L612.46 519.91Z"/>
<path d="M623.05 517.8L623.99 520.51L626.85 520.56L624.57 522.29L625.4 525.04L623.05 523.4L620.7 525.04L621.53 522.29L619.24 520.56L622.11 520.51Z"/>
<path d="M630.93 513.5L631.87 516.21L634.73 516.26L632.45 517.99L633.28 520.74L630.93 519.1L628.57 520.74L629.4 517.99L627.12 516.26L629.99 516.21Z"/>
<path d="M640.57 516.4L641.51 519.11L644.37 519.16L642.09 520.89L642.92 523.64L640.57 522L638.22 523.64L639.05 520.89L636.76 519.16L639.63 519.11Z"/>
<circle cx="573.81" cy="539.7" r="3.3"/>
<circle cx="578.9" cy="542.6" r="3.3"/>
<circle cx="583.45" cy="541.5" r="3.3"/>
<circle cx="587.57" cy="543.3" r="3.3"/>
<circle cx="591.33" cy="541.3" r="3.3"/>
<circle cx="594.79" cy="541.4" r="3.3"/>
<circle cx="597.99" cy="543" r="3.3"/>
<circle cx="600.97" cy="543.8" r="3.3"/>
<circle cx="603.76" cy="537.5" r="3.3"/>
<circle cx="606.38" cy="539.3" r="3.3"/>
<circle cx="608.85" cy="541" r="3.3"/>
<circle cx="611.19" cy="541.8" r="3.3"/>
<circle cx="613.4" cy="542" r="3.3"/>
<circle cx="623.05" cy="413.4" r="3.3"/>
<circle cx="640.57" cy="419.9" r="3.3"/>
<circle cx="643.36" cy="423.8" r="3.3"/>
<circle cx="648.45" cy="411.2" r="3.3"/>
<circle cx="630.93" cy="523.4" r="3.3"/>
<circle cx="637.59" cy="524.3" r="3.3"/>
<circle cx="700.47" cy="542.45" r="3.3"/>
<circle cx="752.5" cy="539.5" r="3.3"/>
</g>
</g></svg></body></html>
